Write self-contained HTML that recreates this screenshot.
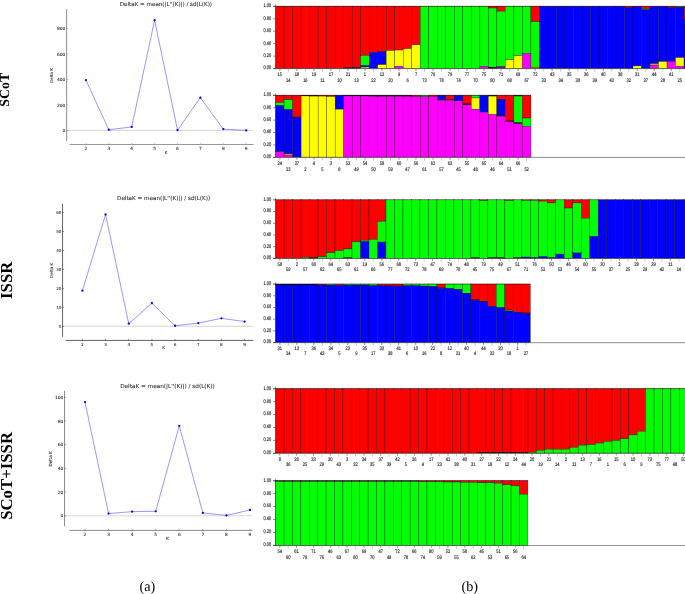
<!DOCTYPE html>
<html><head><meta charset="utf-8"><title>Figure</title>
<style>
html,body{margin:0;padding:0;background:#fff;}
body{width:685px;height:594px;overflow:hidden;}
svg{display:block;}
svg{font-family:"Liberation Sans",sans-serif;text-rendering:geometricPrecision;}
</style></head><body>
<svg width="685" height="594" viewBox="0 0 685 594">
<rect width="685" height="594" fill="#fff"/>
<g>
<g style="font-family:DejaVu Sans,Liberation Sans,sans-serif" stroke="#333" stroke-width="0.1">
<line x1="66.60" y1="130.40" x2="253.50" y2="130.40" stroke="#c4c4c4" stroke-width="0.7"/>
<line x1="66.60" y1="9.30" x2="66.60" y2="141.30" stroke="#999" stroke-width="1.1"/>
<line x1="69.50" y1="144.50" x2="253.50" y2="144.50" stroke="#999" stroke-width="1.1"/>
<line x1="66.60" y1="130.40" x2="68.20" y2="130.40" stroke="#999" stroke-width="0.6"/>
<text x="65.40" y="132.00" font-size="4.4" text-anchor="end" fill="#333">0</text>
<line x1="66.60" y1="104.90" x2="68.20" y2="104.90" stroke="#999" stroke-width="0.6"/>
<text x="65.40" y="106.50" font-size="4.4" text-anchor="end" fill="#333">200</text>
<line x1="66.60" y1="79.40" x2="68.20" y2="79.40" stroke="#999" stroke-width="0.6"/>
<text x="65.40" y="81.00" font-size="4.4" text-anchor="end" fill="#333">400</text>
<line x1="66.60" y1="53.90" x2="68.20" y2="53.90" stroke="#999" stroke-width="0.6"/>
<text x="65.40" y="55.50" font-size="4.4" text-anchor="end" fill="#333">600</text>
<line x1="66.60" y1="28.40" x2="68.20" y2="28.40" stroke="#999" stroke-width="0.6"/>
<text x="65.40" y="30.00" font-size="4.4" text-anchor="end" fill="#333">800</text>
<line x1="85.90" y1="144.50" x2="85.90" y2="142.90" stroke="#999" stroke-width="0.6"/>
<text x="85.90" y="149.70" font-size="4.4" text-anchor="middle" fill="#333">2</text>
<line x1="108.80" y1="144.50" x2="108.80" y2="142.90" stroke="#999" stroke-width="0.6"/>
<text x="108.80" y="149.70" font-size="4.4" text-anchor="middle" fill="#333">3</text>
<line x1="131.70" y1="144.50" x2="131.70" y2="142.90" stroke="#999" stroke-width="0.6"/>
<text x="131.70" y="149.70" font-size="4.4" text-anchor="middle" fill="#333">4</text>
<line x1="154.60" y1="144.50" x2="154.60" y2="142.90" stroke="#999" stroke-width="0.6"/>
<text x="154.60" y="149.70" font-size="4.4" text-anchor="middle" fill="#333">5</text>
<line x1="177.50" y1="144.50" x2="177.50" y2="142.90" stroke="#999" stroke-width="0.6"/>
<text x="177.50" y="149.70" font-size="4.4" text-anchor="middle" fill="#333">6</text>
<line x1="200.40" y1="144.50" x2="200.40" y2="142.90" stroke="#999" stroke-width="0.6"/>
<text x="200.40" y="149.70" font-size="4.4" text-anchor="middle" fill="#333">7</text>
<line x1="223.30" y1="144.50" x2="223.30" y2="142.90" stroke="#999" stroke-width="0.6"/>
<text x="223.30" y="149.70" font-size="4.4" text-anchor="middle" fill="#333">8</text>
<line x1="246.20" y1="144.50" x2="246.20" y2="142.90" stroke="#999" stroke-width="0.6"/>
<text x="246.20" y="149.70" font-size="4.4" text-anchor="middle" fill="#333">9</text>
<polyline fill="none" stroke="#3333ff" stroke-width="0.5" points="85.90,80.04 108.80,129.76 131.70,126.96 154.60,20.24 177.50,130.15 200.40,97.63 223.30,129.12 246.20,130.40"/>
<circle cx="85.90" cy="80.04" r="1.15" fill="#0000ff" stroke="none"/>
<circle cx="108.80" cy="129.76" r="1.15" fill="#0000ff" stroke="none"/>
<circle cx="131.70" cy="126.96" r="1.15" fill="#0000ff" stroke="none"/>
<circle cx="154.60" cy="20.24" r="1.15" fill="#0000ff" stroke="none"/>
<circle cx="177.50" cy="130.15" r="1.15" fill="#0000ff" stroke="none"/>
<circle cx="200.40" cy="97.63" r="1.15" fill="#0000ff" stroke="none"/>
<circle cx="223.30" cy="129.12" r="1.15" fill="#0000ff" stroke="none"/>
<circle cx="246.20" cy="130.40" r="1.15" fill="#0000ff" stroke="none"/>
<text x="165.90" y="6.10" font-size="5.58" text-anchor="middle" textLength="92.2" lengthAdjust="spacingAndGlyphs" fill="#333">DeltaK = mean(|L''(K)|) / sd(L(K))</text>
<text transform="translate(52.80,75.40) rotate(-90)" font-size="4.05" text-anchor="middle" fill="#333">Delta K</text>
<text x="166.05" y="153.70" font-size="4.05" text-anchor="middle" fill="#333">K</text>
</g>
<g style="font-family:DejaVu Sans,Liberation Sans,sans-serif" stroke="#333" stroke-width="0.1">
<line x1="62.55" y1="326.30" x2="253.50" y2="326.30" stroke="#c4c4c4" stroke-width="0.7"/>
<line x1="62.55" y1="203.60" x2="62.55" y2="336.90" stroke="#444" stroke-width="0.85"/>
<line x1="65.70" y1="340.40" x2="253.50" y2="340.40" stroke="#444" stroke-width="0.85"/>
<line x1="62.55" y1="326.30" x2="64.15" y2="326.30" stroke="#444" stroke-width="0.6"/>
<text x="61.35" y="327.90" font-size="4.1" text-anchor="end" fill="#333">0</text>
<line x1="62.55" y1="307.35" x2="64.15" y2="307.35" stroke="#444" stroke-width="0.6"/>
<text x="61.35" y="308.95" font-size="4.1" text-anchor="end" fill="#333">10</text>
<line x1="62.55" y1="288.40" x2="64.15" y2="288.40" stroke="#444" stroke-width="0.6"/>
<text x="61.35" y="290.00" font-size="4.1" text-anchor="end" fill="#333">20</text>
<line x1="62.55" y1="269.45" x2="64.15" y2="269.45" stroke="#444" stroke-width="0.6"/>
<text x="61.35" y="271.05" font-size="4.1" text-anchor="end" fill="#333">30</text>
<line x1="62.55" y1="250.50" x2="64.15" y2="250.50" stroke="#444" stroke-width="0.6"/>
<text x="61.35" y="252.10" font-size="4.1" text-anchor="end" fill="#333">40</text>
<line x1="62.55" y1="231.55" x2="64.15" y2="231.55" stroke="#444" stroke-width="0.6"/>
<text x="61.35" y="233.15" font-size="4.1" text-anchor="end" fill="#333">50</text>
<line x1="62.55" y1="212.60" x2="64.15" y2="212.60" stroke="#444" stroke-width="0.6"/>
<text x="61.35" y="214.20" font-size="4.1" text-anchor="end" fill="#333">60</text>
<line x1="82.40" y1="340.40" x2="82.40" y2="338.80" stroke="#444" stroke-width="0.6"/>
<text x="82.40" y="345.60" font-size="4.1" text-anchor="middle" fill="#333">2</text>
<line x1="105.57" y1="340.40" x2="105.57" y2="338.80" stroke="#444" stroke-width="0.6"/>
<text x="105.57" y="345.60" font-size="4.1" text-anchor="middle" fill="#333">3</text>
<line x1="128.74" y1="340.40" x2="128.74" y2="338.80" stroke="#444" stroke-width="0.6"/>
<text x="128.74" y="345.60" font-size="4.1" text-anchor="middle" fill="#333">4</text>
<line x1="151.91" y1="340.40" x2="151.91" y2="338.80" stroke="#444" stroke-width="0.6"/>
<text x="151.91" y="345.60" font-size="4.1" text-anchor="middle" fill="#333">5</text>
<line x1="175.08" y1="340.40" x2="175.08" y2="338.80" stroke="#444" stroke-width="0.6"/>
<text x="175.08" y="345.60" font-size="4.1" text-anchor="middle" fill="#333">6</text>
<line x1="198.25" y1="340.40" x2="198.25" y2="338.80" stroke="#444" stroke-width="0.6"/>
<text x="198.25" y="345.60" font-size="4.1" text-anchor="middle" fill="#333">7</text>
<line x1="221.42" y1="340.40" x2="221.42" y2="338.80" stroke="#444" stroke-width="0.6"/>
<text x="221.42" y="345.60" font-size="4.1" text-anchor="middle" fill="#333">8</text>
<line x1="244.59" y1="340.40" x2="244.59" y2="338.80" stroke="#444" stroke-width="0.6"/>
<text x="244.59" y="345.60" font-size="4.1" text-anchor="middle" fill="#333">9</text>
<polyline fill="none" stroke="#3333ff" stroke-width="0.5" points="82.40,290.67 105.57,214.50 128.74,323.65 151.91,303.18 175.08,325.73 198.25,323.08 221.42,318.34 244.59,321.56"/>
<circle cx="82.40" cy="290.67" r="1.15" fill="#0000ff" stroke="none"/>
<circle cx="105.57" cy="214.50" r="1.15" fill="#0000ff" stroke="none"/>
<circle cx="128.74" cy="323.65" r="1.15" fill="#0000ff" stroke="none"/>
<circle cx="151.91" cy="303.18" r="1.15" fill="#0000ff" stroke="none"/>
<circle cx="175.08" cy="325.73" r="1.15" fill="#0000ff" stroke="none"/>
<circle cx="198.25" cy="323.08" r="1.15" fill="#0000ff" stroke="none"/>
<circle cx="221.42" cy="318.34" r="1.15" fill="#0000ff" stroke="none"/>
<circle cx="244.59" cy="321.56" r="1.15" fill="#0000ff" stroke="none"/>
<text x="163.60" y="200.40" font-size="5.58" text-anchor="middle" textLength="93.1" lengthAdjust="spacingAndGlyphs" fill="#333">DeltaK = mean(|L''(K)|) / sd(L(K))</text>
<text transform="translate(53.10,270.35) rotate(-90)" font-size="4.15" text-anchor="middle" fill="#333">Delta K</text>
<text x="163.50" y="349.30" font-size="4.15" text-anchor="middle" fill="#333">K</text>
</g>
<g style="font-family:DejaVu Sans,Liberation Sans,sans-serif" stroke="#333" stroke-width="0.1">
<line x1="64.55" y1="515.80" x2="252.30" y2="515.80" stroke="#c4c4c4" stroke-width="0.7"/>
<line x1="64.55" y1="390.90" x2="64.55" y2="526.40" stroke="#6a6a6a" stroke-width="0.8"/>
<line x1="69.40" y1="530.40" x2="252.30" y2="530.40" stroke="#6a6a6a" stroke-width="0.8"/>
<line x1="64.55" y1="515.80" x2="66.15" y2="515.80" stroke="#6a6a6a" stroke-width="0.6"/>
<text x="63.35" y="517.40" font-size="4.4" text-anchor="end" fill="#333">0</text>
<line x1="64.55" y1="492.10" x2="66.15" y2="492.10" stroke="#6a6a6a" stroke-width="0.6"/>
<text x="63.35" y="493.70" font-size="4.4" text-anchor="end" fill="#333">20</text>
<line x1="64.55" y1="468.40" x2="66.15" y2="468.40" stroke="#6a6a6a" stroke-width="0.6"/>
<text x="63.35" y="470.00" font-size="4.4" text-anchor="end" fill="#333">40</text>
<line x1="64.55" y1="444.70" x2="66.15" y2="444.70" stroke="#6a6a6a" stroke-width="0.6"/>
<text x="63.35" y="446.30" font-size="4.4" text-anchor="end" fill="#333">60</text>
<line x1="64.55" y1="421.00" x2="66.15" y2="421.00" stroke="#6a6a6a" stroke-width="0.6"/>
<text x="63.35" y="422.60" font-size="4.4" text-anchor="end" fill="#333">80</text>
<line x1="64.55" y1="397.30" x2="66.15" y2="397.30" stroke="#6a6a6a" stroke-width="0.6"/>
<text x="63.35" y="398.90" font-size="4.4" text-anchor="end" fill="#333">100</text>
<line x1="85.00" y1="530.40" x2="85.00" y2="528.80" stroke="#6a6a6a" stroke-width="0.6"/>
<text x="85.00" y="535.60" font-size="4.4" text-anchor="middle" fill="#333">2</text>
<line x1="108.57" y1="530.40" x2="108.57" y2="528.80" stroke="#6a6a6a" stroke-width="0.6"/>
<text x="108.57" y="535.60" font-size="4.4" text-anchor="middle" fill="#333">3</text>
<line x1="132.14" y1="530.40" x2="132.14" y2="528.80" stroke="#6a6a6a" stroke-width="0.6"/>
<text x="132.14" y="535.60" font-size="4.4" text-anchor="middle" fill="#333">4</text>
<line x1="155.71" y1="530.40" x2="155.71" y2="528.80" stroke="#6a6a6a" stroke-width="0.6"/>
<text x="155.71" y="535.60" font-size="4.4" text-anchor="middle" fill="#333">5</text>
<line x1="179.28" y1="530.40" x2="179.28" y2="528.80" stroke="#6a6a6a" stroke-width="0.6"/>
<text x="179.28" y="535.60" font-size="4.4" text-anchor="middle" fill="#333">6</text>
<line x1="202.85" y1="530.40" x2="202.85" y2="528.80" stroke="#6a6a6a" stroke-width="0.6"/>
<text x="202.85" y="535.60" font-size="4.4" text-anchor="middle" fill="#333">7</text>
<line x1="226.42" y1="530.40" x2="226.42" y2="528.80" stroke="#6a6a6a" stroke-width="0.6"/>
<text x="226.42" y="535.60" font-size="4.4" text-anchor="middle" fill="#333">8</text>
<line x1="249.99" y1="530.40" x2="249.99" y2="528.80" stroke="#6a6a6a" stroke-width="0.6"/>
<text x="249.99" y="535.60" font-size="4.4" text-anchor="middle" fill="#333">9</text>
<polyline fill="none" stroke="#3333ff" stroke-width="0.5" points="85.00,402.04 108.57,513.55 132.14,511.65 155.71,511.30 179.28,425.86 202.85,512.96 226.42,515.44 249.99,509.99"/>
<circle cx="85.00" cy="402.04" r="1.15" fill="#0000ff" stroke="none"/>
<circle cx="108.57" cy="513.55" r="1.15" fill="#0000ff" stroke="none"/>
<circle cx="132.14" cy="511.65" r="1.15" fill="#0000ff" stroke="none"/>
<circle cx="155.71" cy="511.30" r="1.15" fill="#0000ff" stroke="none"/>
<circle cx="179.28" cy="425.86" r="1.15" fill="#0000ff" stroke="none"/>
<circle cx="202.85" cy="512.96" r="1.15" fill="#0000ff" stroke="none"/>
<circle cx="226.42" cy="515.44" r="1.15" fill="#0000ff" stroke="none"/>
<circle cx="249.99" cy="509.99" r="1.15" fill="#0000ff" stroke="none"/>
<text x="167.50" y="387.70" font-size="5.58" text-anchor="middle" textLength="94.7" lengthAdjust="spacingAndGlyphs" fill="#333">DeltaK = mean(|L''(K)|) / sd(L(K))</text>
<text transform="translate(51.70,458.85) rotate(-90)" font-size="4.25" text-anchor="middle" fill="#333">Delta K</text>
<text x="167.50" y="539.80" font-size="4.25" text-anchor="middle" fill="#333">K</text>
</g>
<g stroke-opacity="0.72">
<rect x="275.60" y="6.20" width="8.51" height="62.20" fill="#ff0000" stroke="#000" stroke-width="0.42"/>
<rect x="284.11" y="6.20" width="8.51" height="62.20" fill="#ff0000" stroke="#000" stroke-width="0.42"/>
<rect x="292.62" y="6.20" width="8.51" height="62.20" fill="#ff0000" stroke="#000" stroke-width="0.42"/>
<rect x="301.13" y="6.20" width="8.51" height="62.20" fill="#ff0000" stroke="#000" stroke-width="0.42"/>
<rect x="309.64" y="6.20" width="8.51" height="62.20" fill="#ff0000" stroke="#000" stroke-width="0.42"/>
<rect x="318.15" y="6.20" width="8.51" height="62.20" fill="#ff0000" stroke="#000" stroke-width="0.42"/>
<rect x="326.66" y="6.20" width="8.51" height="62.20" fill="#ff0000" stroke="#000" stroke-width="0.42"/>
<rect x="335.17" y="6.20" width="8.51" height="62.20" fill="#ff0000" stroke="#000" stroke-width="0.42"/>
<rect x="343.68" y="6.20" width="8.51" height="61.45" fill="#ff0000" stroke="#000" stroke-width="0.42"/>
<rect x="343.68" y="67.65" width="8.51" height="0.75" fill="#000000" stroke="#000" stroke-width="0.42"/>
<rect x="352.19" y="6.20" width="8.51" height="61.27" fill="#ff0000" stroke="#000" stroke-width="0.42"/>
<rect x="352.19" y="67.47" width="8.51" height="0.93" fill="#000000" stroke="#000" stroke-width="0.42"/>
<rect x="360.70" y="6.20" width="8.51" height="49.32" fill="#ff0000" stroke="#000" stroke-width="0.42"/>
<rect x="360.70" y="55.52" width="8.51" height="10.08" fill="#00ff00" stroke="#000" stroke-width="0.42"/>
<rect x="360.70" y="65.60" width="8.51" height="1.55" fill="#0000ff" stroke="#000" stroke-width="0.42"/>
<rect x="360.70" y="67.16" width="8.51" height="1.24" fill="#ffff00" stroke="#000" stroke-width="0.42"/>
<rect x="369.21" y="6.20" width="8.51" height="46.34" fill="#ff0000" stroke="#000" stroke-width="0.42"/>
<rect x="369.21" y="52.54" width="8.51" height="15.86" fill="#0000ff" stroke="#000" stroke-width="0.42"/>
<rect x="377.72" y="6.20" width="8.51" height="45.59" fill="#ff0000" stroke="#000" stroke-width="0.42"/>
<rect x="377.72" y="51.79" width="8.51" height="12.88" fill="#0000ff" stroke="#000" stroke-width="0.42"/>
<rect x="377.72" y="64.67" width="8.51" height="3.73" fill="#ffff00" stroke="#000" stroke-width="0.42"/>
<rect x="386.23" y="6.20" width="8.51" height="44.35" fill="#ff0000" stroke="#000" stroke-width="0.42"/>
<rect x="386.23" y="50.55" width="8.51" height="17.85" fill="#ffff00" stroke="#000" stroke-width="0.42"/>
<rect x="394.74" y="6.20" width="8.51" height="43.91" fill="#ff0000" stroke="#000" stroke-width="0.42"/>
<rect x="394.74" y="50.11" width="8.51" height="16.30" fill="#ffff00" stroke="#000" stroke-width="0.42"/>
<rect x="394.74" y="66.41" width="8.51" height="1.99" fill="#ff00ff" stroke="#000" stroke-width="0.42"/>
<rect x="403.25" y="6.20" width="8.51" height="42.48" fill="#ff0000" stroke="#000" stroke-width="0.42"/>
<rect x="403.25" y="48.68" width="8.51" height="19.72" fill="#ffff00" stroke="#000" stroke-width="0.42"/>
<rect x="411.76" y="6.20" width="8.51" height="38.63" fill="#ff0000" stroke="#000" stroke-width="0.42"/>
<rect x="411.76" y="44.83" width="8.51" height="23.57" fill="#ffff00" stroke="#000" stroke-width="0.42"/>
<rect x="420.27" y="6.20" width="8.51" height="62.20" fill="#00ff00" stroke="#000" stroke-width="0.42"/>
<rect x="428.78" y="6.20" width="8.51" height="62.20" fill="#00ff00" stroke="#000" stroke-width="0.42"/>
<rect x="437.29" y="6.20" width="8.51" height="62.20" fill="#00ff00" stroke="#000" stroke-width="0.42"/>
<rect x="445.80" y="6.20" width="8.51" height="62.20" fill="#00ff00" stroke="#000" stroke-width="0.42"/>
<rect x="454.31" y="6.20" width="8.51" height="62.20" fill="#00ff00" stroke="#000" stroke-width="0.42"/>
<rect x="462.82" y="6.20" width="8.51" height="62.20" fill="#00ff00" stroke="#000" stroke-width="0.42"/>
<rect x="471.33" y="6.20" width="8.51" height="62.20" fill="#00ff00" stroke="#000" stroke-width="0.42"/>
<rect x="479.84" y="6.20" width="8.51" height="60.33" fill="#00ff00" stroke="#000" stroke-width="0.42"/>
<rect x="479.84" y="66.53" width="8.51" height="1.87" fill="#ff00ff" stroke="#000" stroke-width="0.42"/>
<rect x="488.35" y="6.20" width="8.51" height="1.87" fill="#ff0000" stroke="#000" stroke-width="0.42"/>
<rect x="488.35" y="8.07" width="8.51" height="59.09" fill="#00ff00" stroke="#000" stroke-width="0.42"/>
<rect x="488.35" y="67.16" width="8.51" height="1.24" fill="#000000" stroke="#000" stroke-width="0.42"/>
<rect x="496.86" y="6.20" width="8.51" height="4.98" fill="#ff0000" stroke="#000" stroke-width="0.42"/>
<rect x="496.86" y="11.18" width="8.51" height="55.36" fill="#00ff00" stroke="#000" stroke-width="0.42"/>
<rect x="496.86" y="66.53" width="8.51" height="1.87" fill="#8000a0" stroke="#000" stroke-width="0.42"/>
<rect x="505.37" y="6.20" width="8.51" height="53.49" fill="#00ff00" stroke="#000" stroke-width="0.42"/>
<rect x="505.37" y="59.69" width="8.51" height="8.71" fill="#ffff00" stroke="#000" stroke-width="0.42"/>
<rect x="513.88" y="6.20" width="8.51" height="49.45" fill="#00ff00" stroke="#000" stroke-width="0.42"/>
<rect x="513.88" y="55.65" width="8.51" height="12.75" fill="#ffff00" stroke="#000" stroke-width="0.42"/>
<rect x="522.39" y="6.20" width="8.51" height="47.27" fill="#00ff00" stroke="#000" stroke-width="0.42"/>
<rect x="522.39" y="53.47" width="8.51" height="14.93" fill="#ff00ff" stroke="#000" stroke-width="0.42"/>
<rect x="530.90" y="6.20" width="8.51" height="15.55" fill="#ff0000" stroke="#000" stroke-width="0.42"/>
<rect x="530.90" y="21.75" width="8.51" height="45.41" fill="#00ff00" stroke="#000" stroke-width="0.42"/>
<rect x="530.90" y="67.16" width="8.51" height="1.24" fill="#c09000" stroke="#000" stroke-width="0.42"/>
<rect x="539.41" y="6.20" width="8.51" height="62.20" fill="#0000ff" stroke="#000" stroke-width="0.42"/>
<rect x="547.92" y="6.20" width="8.51" height="62.20" fill="#0000ff" stroke="#000" stroke-width="0.42"/>
<rect x="556.43" y="6.20" width="8.51" height="62.20" fill="#0000ff" stroke="#000" stroke-width="0.42"/>
<rect x="564.94" y="6.20" width="8.51" height="62.20" fill="#0000ff" stroke="#000" stroke-width="0.42"/>
<rect x="573.45" y="6.20" width="8.51" height="62.20" fill="#0000ff" stroke="#000" stroke-width="0.42"/>
<rect x="581.96" y="6.20" width="8.51" height="62.20" fill="#0000ff" stroke="#000" stroke-width="0.42"/>
<rect x="590.47" y="6.20" width="8.51" height="62.20" fill="#0000ff" stroke="#000" stroke-width="0.42"/>
<rect x="598.98" y="6.20" width="8.51" height="62.20" fill="#0000ff" stroke="#000" stroke-width="0.42"/>
<rect x="607.49" y="6.20" width="8.51" height="62.20" fill="#0000ff" stroke="#000" stroke-width="0.42"/>
<rect x="616.00" y="6.20" width="8.51" height="62.20" fill="#0000ff" stroke="#000" stroke-width="0.42"/>
<rect x="624.51" y="6.20" width="8.51" height="1.56" fill="#ff0000" stroke="#000" stroke-width="0.42"/>
<rect x="624.51" y="7.76" width="8.51" height="60.65" fill="#0000ff" stroke="#000" stroke-width="0.42"/>
<rect x="633.02" y="6.20" width="8.51" height="59.71" fill="#0000ff" stroke="#000" stroke-width="0.42"/>
<rect x="633.02" y="65.91" width="8.51" height="2.49" fill="#ffff00" stroke="#000" stroke-width="0.42"/>
<rect x="641.53" y="6.20" width="8.51" height="2.49" fill="#ff0000" stroke="#000" stroke-width="0.42"/>
<rect x="641.53" y="8.69" width="8.51" height="0.93" fill="#00ff00" stroke="#000" stroke-width="0.42"/>
<rect x="641.53" y="9.62" width="8.51" height="58.78" fill="#0000ff" stroke="#000" stroke-width="0.42"/>
<rect x="650.04" y="6.20" width="8.51" height="57.54" fill="#0000ff" stroke="#000" stroke-width="0.42"/>
<rect x="650.04" y="63.74" width="8.51" height="1.24" fill="#ffff00" stroke="#000" stroke-width="0.42"/>
<rect x="650.04" y="64.98" width="8.51" height="3.42" fill="#ff00ff" stroke="#000" stroke-width="0.42"/>
<rect x="658.55" y="6.20" width="8.51" height="55.36" fill="#0000ff" stroke="#000" stroke-width="0.42"/>
<rect x="658.55" y="61.56" width="8.51" height="6.84" fill="#ffff00" stroke="#000" stroke-width="0.42"/>
<rect x="667.06" y="6.20" width="8.51" height="1.56" fill="#ff0000" stroke="#000" stroke-width="0.42"/>
<rect x="667.06" y="7.76" width="8.51" height="53.80" fill="#0000ff" stroke="#000" stroke-width="0.42"/>
<rect x="667.06" y="61.56" width="8.51" height="6.84" fill="#ff00ff" stroke="#000" stroke-width="0.42"/>
<rect x="675.57" y="6.20" width="8.51" height="0.93" fill="#00ff00" stroke="#000" stroke-width="0.42"/>
<rect x="675.57" y="7.13" width="8.51" height="50.44" fill="#0000ff" stroke="#000" stroke-width="0.42"/>
<rect x="675.57" y="57.58" width="8.51" height="8.96" fill="#ffff00" stroke="#000" stroke-width="0.42"/>
<rect x="675.57" y="66.53" width="8.51" height="1.87" fill="#ff00ff" stroke="#000" stroke-width="0.42"/>
<rect x="684.08" y="6.20" width="8.51" height="13.68" fill="#ff0000" stroke="#000" stroke-width="0.42"/>
<rect x="684.08" y="19.88" width="8.51" height="48.52" fill="#0000ff" stroke="#000" stroke-width="0.42"/>
<line x1="273.00" y1="6.30" x2="685.00" y2="6.30" stroke="#200" stroke-width="0.6"/>
<line x1="273.00" y1="68.65" x2="685.00" y2="68.65" stroke="#222" stroke-width="0.7"/>
<line x1="275.60" y1="4.20" x2="275.60" y2="68.40" stroke="#000" stroke-width="0.5"/>
<line x1="273.00" y1="6.35" x2="275.60" y2="6.35" stroke="#000" stroke-width="0.6"/>
<text x="271.10" y="7.21" font-size="5.2" text-anchor="end" textLength="7.7" lengthAdjust="spacingAndGlyphs" fill="#222" stroke="#222" stroke-width="0.18">1.00</text>
<line x1="273.00" y1="18.79" x2="275.60" y2="18.79" stroke="#000" stroke-width="0.6"/>
<text x="271.10" y="19.65" font-size="5.2" text-anchor="end" textLength="7.7" lengthAdjust="spacingAndGlyphs" fill="#222" stroke="#222" stroke-width="0.18">0.80</text>
<line x1="273.00" y1="31.23" x2="275.60" y2="31.23" stroke="#000" stroke-width="0.6"/>
<text x="271.10" y="32.09" font-size="5.2" text-anchor="end" textLength="7.7" lengthAdjust="spacingAndGlyphs" fill="#222" stroke="#222" stroke-width="0.18">0.60</text>
<line x1="273.00" y1="43.67" x2="275.60" y2="43.67" stroke="#000" stroke-width="0.6"/>
<text x="271.10" y="44.53" font-size="5.2" text-anchor="end" textLength="7.7" lengthAdjust="spacingAndGlyphs" fill="#222" stroke="#222" stroke-width="0.18">0.40</text>
<line x1="273.00" y1="56.11" x2="275.60" y2="56.11" stroke="#000" stroke-width="0.6"/>
<text x="271.10" y="56.97" font-size="5.2" text-anchor="end" textLength="7.7" lengthAdjust="spacingAndGlyphs" fill="#222" stroke="#222" stroke-width="0.18">0.20</text>
<line x1="273.00" y1="68.55" x2="275.60" y2="68.55" stroke="#000" stroke-width="0.6"/>
<text x="271.10" y="69.41" font-size="5.2" text-anchor="end" textLength="7.7" lengthAdjust="spacingAndGlyphs" fill="#222" stroke="#222" stroke-width="0.18">0.00</text>
<line x1="279.86" y1="68.90" x2="279.86" y2="71.00" stroke="#111" stroke-width="0.6"/>
<text x="279.86" y="76.16" font-size="5.2" text-anchor="middle" textLength="4.50" lengthAdjust="spacingAndGlyphs" fill="#222" stroke="#222" stroke-width="0.18">15</text>
<line x1="288.37" y1="68.90" x2="288.37" y2="71.80" stroke="#888" stroke-width="0.6"/>
<text x="288.37" y="81.66" font-size="5.2" text-anchor="middle" textLength="4.50" lengthAdjust="spacingAndGlyphs" fill="#222" stroke="#222" stroke-width="0.18">14</text>
<line x1="296.88" y1="68.90" x2="296.88" y2="71.00" stroke="#111" stroke-width="0.6"/>
<text x="296.88" y="76.16" font-size="5.2" text-anchor="middle" textLength="4.50" lengthAdjust="spacingAndGlyphs" fill="#222" stroke="#222" stroke-width="0.18">18</text>
<line x1="305.39" y1="68.90" x2="305.39" y2="71.80" stroke="#888" stroke-width="0.6"/>
<text x="305.39" y="81.66" font-size="5.2" text-anchor="middle" textLength="4.50" lengthAdjust="spacingAndGlyphs" fill="#222" stroke="#222" stroke-width="0.18">16</text>
<line x1="313.90" y1="68.90" x2="313.90" y2="71.00" stroke="#111" stroke-width="0.6"/>
<text x="313.90" y="76.16" font-size="5.2" text-anchor="middle" textLength="4.50" lengthAdjust="spacingAndGlyphs" fill="#222" stroke="#222" stroke-width="0.18">19</text>
<line x1="322.41" y1="68.90" x2="322.41" y2="71.80" stroke="#888" stroke-width="0.6"/>
<text x="322.41" y="81.66" font-size="5.2" text-anchor="middle" textLength="4.50" lengthAdjust="spacingAndGlyphs" fill="#222" stroke="#222" stroke-width="0.18">11</text>
<line x1="330.92" y1="68.90" x2="330.92" y2="71.00" stroke="#111" stroke-width="0.6"/>
<text x="330.92" y="76.16" font-size="5.2" text-anchor="middle" textLength="4.50" lengthAdjust="spacingAndGlyphs" fill="#222" stroke="#222" stroke-width="0.18">17</text>
<line x1="339.43" y1="68.90" x2="339.43" y2="71.80" stroke="#888" stroke-width="0.6"/>
<text x="339.43" y="81.66" font-size="5.2" text-anchor="middle" textLength="4.50" lengthAdjust="spacingAndGlyphs" fill="#222" stroke="#222" stroke-width="0.18">10</text>
<line x1="347.94" y1="68.90" x2="347.94" y2="71.00" stroke="#111" stroke-width="0.6"/>
<text x="347.94" y="76.16" font-size="5.2" text-anchor="middle" textLength="4.50" lengthAdjust="spacingAndGlyphs" fill="#222" stroke="#222" stroke-width="0.18">21</text>
<line x1="356.45" y1="68.90" x2="356.45" y2="71.80" stroke="#888" stroke-width="0.6"/>
<text x="356.45" y="81.66" font-size="5.2" text-anchor="middle" textLength="4.50" lengthAdjust="spacingAndGlyphs" fill="#222" stroke="#222" stroke-width="0.18">13</text>
<line x1="364.96" y1="68.90" x2="364.96" y2="71.00" stroke="#111" stroke-width="0.6"/>
<text x="364.96" y="76.16" font-size="5.2" text-anchor="middle" textLength="2.25" lengthAdjust="spacingAndGlyphs" fill="#222" stroke="#222" stroke-width="0.18">1</text>
<line x1="373.47" y1="68.90" x2="373.47" y2="71.80" stroke="#888" stroke-width="0.6"/>
<text x="373.47" y="81.66" font-size="5.2" text-anchor="middle" textLength="4.50" lengthAdjust="spacingAndGlyphs" fill="#222" stroke="#222" stroke-width="0.18">22</text>
<line x1="381.98" y1="68.90" x2="381.98" y2="71.00" stroke="#111" stroke-width="0.6"/>
<text x="381.98" y="76.16" font-size="5.2" text-anchor="middle" textLength="4.50" lengthAdjust="spacingAndGlyphs" fill="#222" stroke="#222" stroke-width="0.18">12</text>
<line x1="390.49" y1="68.90" x2="390.49" y2="71.80" stroke="#888" stroke-width="0.6"/>
<text x="390.49" y="81.66" font-size="5.2" text-anchor="middle" textLength="4.50" lengthAdjust="spacingAndGlyphs" fill="#222" stroke="#222" stroke-width="0.18">20</text>
<line x1="399.00" y1="68.90" x2="399.00" y2="71.00" stroke="#111" stroke-width="0.6"/>
<text x="399.00" y="76.16" font-size="5.2" text-anchor="middle" textLength="2.25" lengthAdjust="spacingAndGlyphs" fill="#222" stroke="#222" stroke-width="0.18">9</text>
<line x1="407.50" y1="68.90" x2="407.50" y2="71.80" stroke="#888" stroke-width="0.6"/>
<text x="407.50" y="81.66" font-size="5.2" text-anchor="middle" textLength="2.25" lengthAdjust="spacingAndGlyphs" fill="#222" stroke="#222" stroke-width="0.18">6</text>
<line x1="416.01" y1="68.90" x2="416.01" y2="71.00" stroke="#111" stroke-width="0.6"/>
<text x="416.01" y="76.16" font-size="5.2" text-anchor="middle" textLength="2.25" lengthAdjust="spacingAndGlyphs" fill="#222" stroke="#222" stroke-width="0.18">7</text>
<line x1="424.52" y1="68.90" x2="424.52" y2="71.80" stroke="#888" stroke-width="0.6"/>
<text x="424.52" y="81.66" font-size="5.2" text-anchor="middle" textLength="4.50" lengthAdjust="spacingAndGlyphs" fill="#222" stroke="#222" stroke-width="0.18">73</text>
<line x1="433.04" y1="68.90" x2="433.04" y2="71.00" stroke="#111" stroke-width="0.6"/>
<text x="433.04" y="76.16" font-size="5.2" text-anchor="middle" textLength="4.50" lengthAdjust="spacingAndGlyphs" fill="#222" stroke="#222" stroke-width="0.18">76</text>
<line x1="441.55" y1="68.90" x2="441.55" y2="71.80" stroke="#888" stroke-width="0.6"/>
<text x="441.55" y="81.66" font-size="5.2" text-anchor="middle" textLength="4.50" lengthAdjust="spacingAndGlyphs" fill="#222" stroke="#222" stroke-width="0.18">78</text>
<line x1="450.06" y1="68.90" x2="450.06" y2="71.00" stroke="#111" stroke-width="0.6"/>
<text x="450.06" y="76.16" font-size="5.2" text-anchor="middle" textLength="4.50" lengthAdjust="spacingAndGlyphs" fill="#222" stroke="#222" stroke-width="0.18">79</text>
<line x1="458.57" y1="68.90" x2="458.57" y2="71.80" stroke="#888" stroke-width="0.6"/>
<text x="458.57" y="81.66" font-size="5.2" text-anchor="middle" textLength="4.50" lengthAdjust="spacingAndGlyphs" fill="#222" stroke="#222" stroke-width="0.18">74</text>
<line x1="467.08" y1="68.90" x2="467.08" y2="71.00" stroke="#111" stroke-width="0.6"/>
<text x="467.08" y="76.16" font-size="5.2" text-anchor="middle" textLength="4.50" lengthAdjust="spacingAndGlyphs" fill="#222" stroke="#222" stroke-width="0.18">77</text>
<line x1="475.59" y1="68.90" x2="475.59" y2="71.80" stroke="#888" stroke-width="0.6"/>
<text x="475.59" y="81.66" font-size="5.2" text-anchor="middle" textLength="4.50" lengthAdjust="spacingAndGlyphs" fill="#222" stroke="#222" stroke-width="0.18">70</text>
<line x1="484.10" y1="68.90" x2="484.10" y2="71.00" stroke="#111" stroke-width="0.6"/>
<text x="484.10" y="76.16" font-size="5.2" text-anchor="middle" textLength="4.50" lengthAdjust="spacingAndGlyphs" fill="#222" stroke="#222" stroke-width="0.18">75</text>
<line x1="492.61" y1="68.90" x2="492.61" y2="71.80" stroke="#888" stroke-width="0.6"/>
<text x="492.61" y="81.66" font-size="5.2" text-anchor="middle" textLength="4.50" lengthAdjust="spacingAndGlyphs" fill="#222" stroke="#222" stroke-width="0.18">80</text>
<line x1="501.12" y1="68.90" x2="501.12" y2="71.00" stroke="#111" stroke-width="0.6"/>
<text x="501.12" y="76.16" font-size="5.2" text-anchor="middle" textLength="4.50" lengthAdjust="spacingAndGlyphs" fill="#222" stroke="#222" stroke-width="0.18">71</text>
<line x1="509.62" y1="68.90" x2="509.62" y2="71.80" stroke="#888" stroke-width="0.6"/>
<text x="509.62" y="81.66" font-size="5.2" text-anchor="middle" textLength="4.50" lengthAdjust="spacingAndGlyphs" fill="#222" stroke="#222" stroke-width="0.18">68</text>
<line x1="518.13" y1="68.90" x2="518.13" y2="71.00" stroke="#111" stroke-width="0.6"/>
<text x="518.13" y="76.16" font-size="5.2" text-anchor="middle" textLength="4.50" lengthAdjust="spacingAndGlyphs" fill="#222" stroke="#222" stroke-width="0.18">69</text>
<line x1="526.64" y1="68.90" x2="526.64" y2="71.80" stroke="#888" stroke-width="0.6"/>
<text x="526.64" y="81.66" font-size="5.2" text-anchor="middle" textLength="4.50" lengthAdjust="spacingAndGlyphs" fill="#222" stroke="#222" stroke-width="0.18">67</text>
<line x1="535.15" y1="68.90" x2="535.15" y2="71.00" stroke="#111" stroke-width="0.6"/>
<text x="535.15" y="76.16" font-size="5.2" text-anchor="middle" textLength="4.50" lengthAdjust="spacingAndGlyphs" fill="#222" stroke="#222" stroke-width="0.18">72</text>
<line x1="543.66" y1="68.90" x2="543.66" y2="71.80" stroke="#888" stroke-width="0.6"/>
<text x="543.66" y="81.66" font-size="5.2" text-anchor="middle" textLength="4.50" lengthAdjust="spacingAndGlyphs" fill="#222" stroke="#222" stroke-width="0.18">33</text>
<line x1="552.17" y1="68.90" x2="552.17" y2="71.00" stroke="#111" stroke-width="0.6"/>
<text x="552.17" y="76.16" font-size="5.2" text-anchor="middle" textLength="4.50" lengthAdjust="spacingAndGlyphs" fill="#222" stroke="#222" stroke-width="0.18">43</text>
<line x1="560.68" y1="68.90" x2="560.68" y2="71.80" stroke="#888" stroke-width="0.6"/>
<text x="560.68" y="81.66" font-size="5.2" text-anchor="middle" textLength="4.50" lengthAdjust="spacingAndGlyphs" fill="#222" stroke="#222" stroke-width="0.18">34</text>
<line x1="569.19" y1="68.90" x2="569.19" y2="71.00" stroke="#111" stroke-width="0.6"/>
<text x="569.19" y="76.16" font-size="5.2" text-anchor="middle" textLength="4.50" lengthAdjust="spacingAndGlyphs" fill="#222" stroke="#222" stroke-width="0.18">35</text>
<line x1="577.71" y1="68.90" x2="577.71" y2="71.80" stroke="#888" stroke-width="0.6"/>
<text x="577.71" y="81.66" font-size="5.2" text-anchor="middle" textLength="4.50" lengthAdjust="spacingAndGlyphs" fill="#222" stroke="#222" stroke-width="0.18">30</text>
<line x1="586.22" y1="68.90" x2="586.22" y2="71.00" stroke="#111" stroke-width="0.6"/>
<text x="586.22" y="76.16" font-size="5.2" text-anchor="middle" textLength="4.50" lengthAdjust="spacingAndGlyphs" fill="#222" stroke="#222" stroke-width="0.18">36</text>
<line x1="594.73" y1="68.90" x2="594.73" y2="71.80" stroke="#888" stroke-width="0.6"/>
<text x="594.73" y="81.66" font-size="5.2" text-anchor="middle" textLength="4.50" lengthAdjust="spacingAndGlyphs" fill="#222" stroke="#222" stroke-width="0.18">39</text>
<line x1="603.24" y1="68.90" x2="603.24" y2="71.00" stroke="#111" stroke-width="0.6"/>
<text x="603.24" y="76.16" font-size="5.2" text-anchor="middle" textLength="4.50" lengthAdjust="spacingAndGlyphs" fill="#222" stroke="#222" stroke-width="0.18">40</text>
<line x1="611.75" y1="68.90" x2="611.75" y2="71.80" stroke="#888" stroke-width="0.6"/>
<text x="611.75" y="81.66" font-size="5.2" text-anchor="middle" textLength="4.50" lengthAdjust="spacingAndGlyphs" fill="#222" stroke="#222" stroke-width="0.18">42</text>
<line x1="620.25" y1="68.90" x2="620.25" y2="71.00" stroke="#111" stroke-width="0.6"/>
<text x="620.25" y="76.16" font-size="5.2" text-anchor="middle" textLength="4.50" lengthAdjust="spacingAndGlyphs" fill="#222" stroke="#222" stroke-width="0.18">38</text>
<line x1="628.76" y1="68.90" x2="628.76" y2="71.80" stroke="#888" stroke-width="0.6"/>
<text x="628.76" y="81.66" font-size="5.2" text-anchor="middle" textLength="4.50" lengthAdjust="spacingAndGlyphs" fill="#222" stroke="#222" stroke-width="0.18">32</text>
<line x1="637.28" y1="68.90" x2="637.28" y2="71.00" stroke="#111" stroke-width="0.6"/>
<text x="637.28" y="76.16" font-size="5.2" text-anchor="middle" textLength="4.50" lengthAdjust="spacingAndGlyphs" fill="#222" stroke="#222" stroke-width="0.18">31</text>
<line x1="645.79" y1="68.90" x2="645.79" y2="71.80" stroke="#888" stroke-width="0.6"/>
<text x="645.79" y="81.66" font-size="5.2" text-anchor="middle" textLength="4.50" lengthAdjust="spacingAndGlyphs" fill="#222" stroke="#222" stroke-width="0.18">37</text>
<line x1="654.30" y1="68.90" x2="654.30" y2="71.00" stroke="#111" stroke-width="0.6"/>
<text x="654.30" y="76.16" font-size="5.2" text-anchor="middle" textLength="4.50" lengthAdjust="spacingAndGlyphs" fill="#222" stroke="#222" stroke-width="0.18">44</text>
<line x1="662.81" y1="68.90" x2="662.81" y2="71.80" stroke="#888" stroke-width="0.6"/>
<text x="662.81" y="81.66" font-size="5.2" text-anchor="middle" textLength="4.50" lengthAdjust="spacingAndGlyphs" fill="#222" stroke="#222" stroke-width="0.18">28</text>
<line x1="671.32" y1="68.90" x2="671.32" y2="71.00" stroke="#111" stroke-width="0.6"/>
<text x="671.32" y="76.16" font-size="5.2" text-anchor="middle" textLength="4.50" lengthAdjust="spacingAndGlyphs" fill="#222" stroke="#222" stroke-width="0.18">41</text>
<line x1="679.83" y1="68.90" x2="679.83" y2="71.80" stroke="#888" stroke-width="0.6"/>
<text x="679.83" y="81.66" font-size="5.2" text-anchor="middle" textLength="4.50" lengthAdjust="spacingAndGlyphs" fill="#222" stroke="#222" stroke-width="0.18">25</text>
</g>
<g stroke-opacity="0.72">
<rect x="275.60" y="95.20" width="8.51" height="7.43" fill="#ff0000" stroke="#000" stroke-width="0.42"/>
<rect x="275.60" y="102.63" width="8.51" height="2.85" fill="#00ff00" stroke="#000" stroke-width="0.42"/>
<rect x="275.60" y="105.48" width="8.51" height="46.21" fill="#0000ff" stroke="#000" stroke-width="0.42"/>
<rect x="275.60" y="151.70" width="8.51" height="5.45" fill="#ff00ff" stroke="#000" stroke-width="0.42"/>
<rect x="284.11" y="95.20" width="8.51" height="4.58" fill="#ff0000" stroke="#000" stroke-width="0.42"/>
<rect x="284.11" y="99.78" width="8.51" height="9.73" fill="#00ff00" stroke="#000" stroke-width="0.42"/>
<rect x="284.11" y="109.51" width="8.51" height="44.36" fill="#0000ff" stroke="#000" stroke-width="0.42"/>
<rect x="284.11" y="153.87" width="8.51" height="1.12" fill="#ffff00" stroke="#000" stroke-width="0.42"/>
<rect x="284.11" y="154.98" width="8.51" height="2.17" fill="#ff00ff" stroke="#000" stroke-width="0.42"/>
<rect x="292.62" y="95.20" width="8.51" height="21.87" fill="#ff0000" stroke="#000" stroke-width="0.42"/>
<rect x="292.62" y="117.07" width="8.51" height="40.08" fill="#0000ff" stroke="#000" stroke-width="0.42"/>
<rect x="301.13" y="95.20" width="8.51" height="0.74" fill="#000000" stroke="#000" stroke-width="0.42"/>
<rect x="301.13" y="95.94" width="8.51" height="61.21" fill="#ffff00" stroke="#000" stroke-width="0.42"/>
<rect x="309.64" y="95.20" width="8.51" height="0.93" fill="#000000" stroke="#000" stroke-width="0.42"/>
<rect x="309.64" y="96.13" width="8.51" height="61.02" fill="#ffff00" stroke="#000" stroke-width="0.42"/>
<rect x="318.15" y="95.20" width="8.51" height="0.93" fill="#ff0000" stroke="#000" stroke-width="0.42"/>
<rect x="318.15" y="96.13" width="8.51" height="61.02" fill="#ffff00" stroke="#000" stroke-width="0.42"/>
<rect x="326.66" y="95.20" width="8.51" height="1.36" fill="#ff0000" stroke="#000" stroke-width="0.42"/>
<rect x="326.66" y="96.56" width="8.51" height="60.59" fill="#ffff00" stroke="#000" stroke-width="0.42"/>
<rect x="335.17" y="95.20" width="8.51" height="14.00" fill="#0000ff" stroke="#000" stroke-width="0.42"/>
<rect x="335.17" y="109.20" width="8.51" height="47.95" fill="#ffff00" stroke="#000" stroke-width="0.42"/>
<rect x="343.68" y="95.20" width="8.51" height="0.74" fill="#000000" stroke="#000" stroke-width="0.42"/>
<rect x="343.68" y="95.94" width="8.51" height="61.21" fill="#ff00ff" stroke="#000" stroke-width="0.42"/>
<rect x="352.19" y="95.20" width="8.51" height="0.74" fill="#000000" stroke="#000" stroke-width="0.42"/>
<rect x="352.19" y="95.94" width="8.51" height="61.21" fill="#ff00ff" stroke="#000" stroke-width="0.42"/>
<rect x="360.70" y="95.20" width="8.51" height="0.74" fill="#000000" stroke="#000" stroke-width="0.42"/>
<rect x="360.70" y="95.94" width="8.51" height="61.21" fill="#ff00ff" stroke="#000" stroke-width="0.42"/>
<rect x="369.21" y="95.20" width="8.51" height="1.12" fill="#000000" stroke="#000" stroke-width="0.42"/>
<rect x="369.21" y="96.32" width="8.51" height="60.83" fill="#ff00ff" stroke="#000" stroke-width="0.42"/>
<rect x="377.72" y="95.20" width="8.51" height="1.12" fill="#000000" stroke="#000" stroke-width="0.42"/>
<rect x="377.72" y="96.32" width="8.51" height="60.83" fill="#ff00ff" stroke="#000" stroke-width="0.42"/>
<rect x="386.23" y="95.20" width="8.51" height="1.12" fill="#000000" stroke="#000" stroke-width="0.42"/>
<rect x="386.23" y="96.32" width="8.51" height="60.83" fill="#ff00ff" stroke="#000" stroke-width="0.42"/>
<rect x="394.74" y="95.20" width="8.51" height="1.12" fill="#000000" stroke="#000" stroke-width="0.42"/>
<rect x="394.74" y="96.32" width="8.51" height="60.83" fill="#ff00ff" stroke="#000" stroke-width="0.42"/>
<rect x="403.25" y="95.20" width="8.51" height="1.12" fill="#000000" stroke="#000" stroke-width="0.42"/>
<rect x="403.25" y="96.32" width="8.51" height="60.83" fill="#ff00ff" stroke="#000" stroke-width="0.42"/>
<rect x="411.76" y="95.20" width="8.51" height="1.36" fill="#ff0000" stroke="#000" stroke-width="0.42"/>
<rect x="411.76" y="96.56" width="8.51" height="60.59" fill="#ff00ff" stroke="#000" stroke-width="0.42"/>
<rect x="420.27" y="95.20" width="8.51" height="1.55" fill="#00ff00" stroke="#000" stroke-width="0.42"/>
<rect x="420.27" y="96.75" width="8.51" height="60.40" fill="#ff00ff" stroke="#000" stroke-width="0.42"/>
<rect x="428.78" y="95.20" width="8.51" height="1.36" fill="#ff0000" stroke="#000" stroke-width="0.42"/>
<rect x="428.78" y="96.56" width="8.51" height="60.59" fill="#ff00ff" stroke="#000" stroke-width="0.42"/>
<rect x="437.29" y="95.20" width="8.51" height="4.34" fill="#0000ff" stroke="#000" stroke-width="0.42"/>
<rect x="437.29" y="99.54" width="8.51" height="0.74" fill="#000000" stroke="#000" stroke-width="0.42"/>
<rect x="437.29" y="100.28" width="8.51" height="56.87" fill="#ff00ff" stroke="#000" stroke-width="0.42"/>
<rect x="445.80" y="95.20" width="8.51" height="4.34" fill="#ff0000" stroke="#000" stroke-width="0.42"/>
<rect x="445.80" y="99.54" width="8.51" height="0.62" fill="#000000" stroke="#000" stroke-width="0.42"/>
<rect x="445.80" y="100.16" width="8.51" height="56.99" fill="#ff00ff" stroke="#000" stroke-width="0.42"/>
<rect x="454.31" y="95.20" width="8.51" height="5.64" fill="#0000ff" stroke="#000" stroke-width="0.42"/>
<rect x="454.31" y="100.84" width="8.51" height="56.31" fill="#ff00ff" stroke="#000" stroke-width="0.42"/>
<rect x="462.82" y="95.20" width="8.51" height="8.67" fill="#ff0000" stroke="#000" stroke-width="0.42"/>
<rect x="462.82" y="103.87" width="8.51" height="0.93" fill="#000000" stroke="#000" stroke-width="0.42"/>
<rect x="462.82" y="104.80" width="8.51" height="52.35" fill="#ff00ff" stroke="#000" stroke-width="0.42"/>
<rect x="471.33" y="95.20" width="8.51" height="2.73" fill="#00ff00" stroke="#000" stroke-width="0.42"/>
<rect x="471.33" y="97.93" width="8.51" height="11.27" fill="#ffff00" stroke="#000" stroke-width="0.42"/>
<rect x="471.33" y="109.20" width="8.51" height="47.95" fill="#ff00ff" stroke="#000" stroke-width="0.42"/>
<rect x="479.84" y="95.20" width="8.51" height="16.91" fill="#0000ff" stroke="#000" stroke-width="0.42"/>
<rect x="479.84" y="112.11" width="8.51" height="45.04" fill="#ff00ff" stroke="#000" stroke-width="0.42"/>
<rect x="488.35" y="95.20" width="8.51" height="0.93" fill="#000000" stroke="#000" stroke-width="0.42"/>
<rect x="488.35" y="96.13" width="8.51" height="18.40" fill="#ffff00" stroke="#000" stroke-width="0.42"/>
<rect x="488.35" y="114.53" width="8.51" height="42.62" fill="#ff00ff" stroke="#000" stroke-width="0.42"/>
<rect x="496.86" y="95.20" width="8.51" height="4.03" fill="#ff0000" stroke="#000" stroke-width="0.42"/>
<rect x="496.86" y="99.23" width="8.51" height="16.11" fill="#0000ff" stroke="#000" stroke-width="0.42"/>
<rect x="496.86" y="115.33" width="8.51" height="0.93" fill="#000000" stroke="#000" stroke-width="0.42"/>
<rect x="496.86" y="116.26" width="8.51" height="40.89" fill="#ff00ff" stroke="#000" stroke-width="0.42"/>
<rect x="505.37" y="95.20" width="8.51" height="25.71" fill="#ff0000" stroke="#000" stroke-width="0.42"/>
<rect x="505.37" y="120.91" width="8.51" height="0.81" fill="#000000" stroke="#000" stroke-width="0.42"/>
<rect x="505.37" y="121.71" width="8.51" height="35.44" fill="#ff00ff" stroke="#000" stroke-width="0.42"/>
<rect x="513.88" y="95.20" width="8.51" height="0.93" fill="#000000" stroke="#000" stroke-width="0.42"/>
<rect x="513.88" y="96.13" width="8.51" height="26.64" fill="#00ff00" stroke="#000" stroke-width="0.42"/>
<rect x="513.88" y="122.77" width="8.51" height="0.93" fill="#000000" stroke="#000" stroke-width="0.42"/>
<rect x="513.88" y="123.70" width="8.51" height="33.45" fill="#ff00ff" stroke="#000" stroke-width="0.42"/>
<rect x="522.39" y="95.20" width="8.51" height="22.86" fill="#ff0000" stroke="#000" stroke-width="0.42"/>
<rect x="522.39" y="118.06" width="8.51" height="8.49" fill="#00ff00" stroke="#000" stroke-width="0.42"/>
<rect x="522.39" y="126.55" width="8.51" height="30.60" fill="#ff00ff" stroke="#000" stroke-width="0.42"/>
<line x1="273.00" y1="95.30" x2="530.90" y2="95.30" stroke="#200" stroke-width="0.6"/>
<line x1="273.00" y1="157.40" x2="685.00" y2="157.40" stroke="#222" stroke-width="0.7"/>
<line x1="275.60" y1="93.20" x2="275.60" y2="157.15" stroke="#000" stroke-width="0.5"/>
<line x1="273.00" y1="95.35" x2="275.60" y2="95.35" stroke="#000" stroke-width="0.6"/>
<text x="271.10" y="96.21" font-size="5.2" text-anchor="end" textLength="7.7" lengthAdjust="spacingAndGlyphs" fill="#222" stroke="#222" stroke-width="0.18">1.00</text>
<line x1="273.00" y1="107.74" x2="275.60" y2="107.74" stroke="#000" stroke-width="0.6"/>
<text x="271.10" y="108.60" font-size="5.2" text-anchor="end" textLength="7.7" lengthAdjust="spacingAndGlyphs" fill="#222" stroke="#222" stroke-width="0.18">0.80</text>
<line x1="273.00" y1="120.13" x2="275.60" y2="120.13" stroke="#000" stroke-width="0.6"/>
<text x="271.10" y="120.99" font-size="5.2" text-anchor="end" textLength="7.7" lengthAdjust="spacingAndGlyphs" fill="#222" stroke="#222" stroke-width="0.18">0.60</text>
<line x1="273.00" y1="132.52" x2="275.60" y2="132.52" stroke="#000" stroke-width="0.6"/>
<text x="271.10" y="133.38" font-size="5.2" text-anchor="end" textLength="7.7" lengthAdjust="spacingAndGlyphs" fill="#222" stroke="#222" stroke-width="0.18">0.40</text>
<line x1="273.00" y1="144.91" x2="275.60" y2="144.91" stroke="#000" stroke-width="0.6"/>
<text x="271.10" y="145.77" font-size="5.2" text-anchor="end" textLength="7.7" lengthAdjust="spacingAndGlyphs" fill="#222" stroke="#222" stroke-width="0.18">0.20</text>
<line x1="273.00" y1="157.30" x2="275.60" y2="157.30" stroke="#000" stroke-width="0.6"/>
<text x="271.10" y="158.16" font-size="5.2" text-anchor="end" textLength="7.7" lengthAdjust="spacingAndGlyphs" fill="#222" stroke="#222" stroke-width="0.18">0.00</text>
<line x1="279.86" y1="157.65" x2="279.86" y2="159.75" stroke="#111" stroke-width="0.6"/>
<text x="279.86" y="165.16" font-size="5.2" text-anchor="middle" textLength="4.50" lengthAdjust="spacingAndGlyphs" fill="#222" stroke="#222" stroke-width="0.18">24</text>
<line x1="288.37" y1="157.65" x2="288.37" y2="160.55" stroke="#888" stroke-width="0.6"/>
<text x="288.37" y="170.61" font-size="5.2" text-anchor="middle" textLength="4.50" lengthAdjust="spacingAndGlyphs" fill="#222" stroke="#222" stroke-width="0.18">23</text>
<line x1="296.88" y1="157.65" x2="296.88" y2="159.75" stroke="#111" stroke-width="0.6"/>
<text x="296.88" y="165.16" font-size="5.2" text-anchor="middle" textLength="4.50" lengthAdjust="spacingAndGlyphs" fill="#222" stroke="#222" stroke-width="0.18">27</text>
<line x1="305.39" y1="157.65" x2="305.39" y2="160.55" stroke="#888" stroke-width="0.6"/>
<text x="305.39" y="170.61" font-size="5.2" text-anchor="middle" textLength="2.25" lengthAdjust="spacingAndGlyphs" fill="#222" stroke="#222" stroke-width="0.18">2</text>
<line x1="313.90" y1="157.65" x2="313.90" y2="159.75" stroke="#111" stroke-width="0.6"/>
<text x="313.90" y="165.16" font-size="5.2" text-anchor="middle" textLength="2.25" lengthAdjust="spacingAndGlyphs" fill="#222" stroke="#222" stroke-width="0.18">4</text>
<line x1="322.41" y1="157.65" x2="322.41" y2="160.55" stroke="#888" stroke-width="0.6"/>
<text x="322.41" y="170.61" font-size="5.2" text-anchor="middle" textLength="2.25" lengthAdjust="spacingAndGlyphs" fill="#222" stroke="#222" stroke-width="0.18">5</text>
<line x1="330.92" y1="157.65" x2="330.92" y2="159.75" stroke="#111" stroke-width="0.6"/>
<text x="330.92" y="165.16" font-size="5.2" text-anchor="middle" textLength="2.25" lengthAdjust="spacingAndGlyphs" fill="#222" stroke="#222" stroke-width="0.18">3</text>
<line x1="339.43" y1="157.65" x2="339.43" y2="160.55" stroke="#888" stroke-width="0.6"/>
<text x="339.43" y="170.61" font-size="5.2" text-anchor="middle" textLength="2.25" lengthAdjust="spacingAndGlyphs" fill="#222" stroke="#222" stroke-width="0.18">8</text>
<line x1="347.94" y1="157.65" x2="347.94" y2="159.75" stroke="#111" stroke-width="0.6"/>
<text x="347.94" y="165.16" font-size="5.2" text-anchor="middle" textLength="4.50" lengthAdjust="spacingAndGlyphs" fill="#222" stroke="#222" stroke-width="0.18">53</text>
<line x1="356.45" y1="157.65" x2="356.45" y2="160.55" stroke="#888" stroke-width="0.6"/>
<text x="356.45" y="170.61" font-size="5.2" text-anchor="middle" textLength="4.50" lengthAdjust="spacingAndGlyphs" fill="#222" stroke="#222" stroke-width="0.18">49</text>
<line x1="364.96" y1="157.65" x2="364.96" y2="159.75" stroke="#111" stroke-width="0.6"/>
<text x="364.96" y="165.16" font-size="5.2" text-anchor="middle" textLength="4.50" lengthAdjust="spacingAndGlyphs" fill="#222" stroke="#222" stroke-width="0.18">54</text>
<line x1="373.47" y1="157.65" x2="373.47" y2="160.55" stroke="#888" stroke-width="0.6"/>
<text x="373.47" y="170.61" font-size="5.2" text-anchor="middle" textLength="4.50" lengthAdjust="spacingAndGlyphs" fill="#222" stroke="#222" stroke-width="0.18">50</text>
<line x1="381.98" y1="157.65" x2="381.98" y2="159.75" stroke="#111" stroke-width="0.6"/>
<text x="381.98" y="165.16" font-size="5.2" text-anchor="middle" textLength="4.50" lengthAdjust="spacingAndGlyphs" fill="#222" stroke="#222" stroke-width="0.18">58</text>
<line x1="390.49" y1="157.65" x2="390.49" y2="160.55" stroke="#888" stroke-width="0.6"/>
<text x="390.49" y="170.61" font-size="5.2" text-anchor="middle" textLength="4.50" lengthAdjust="spacingAndGlyphs" fill="#222" stroke="#222" stroke-width="0.18">59</text>
<line x1="399.00" y1="157.65" x2="399.00" y2="159.75" stroke="#111" stroke-width="0.6"/>
<text x="399.00" y="165.16" font-size="5.2" text-anchor="middle" textLength="4.50" lengthAdjust="spacingAndGlyphs" fill="#222" stroke="#222" stroke-width="0.18">60</text>
<line x1="407.50" y1="157.65" x2="407.50" y2="160.55" stroke="#888" stroke-width="0.6"/>
<text x="407.50" y="170.61" font-size="5.2" text-anchor="middle" textLength="4.50" lengthAdjust="spacingAndGlyphs" fill="#222" stroke="#222" stroke-width="0.18">47</text>
<line x1="416.01" y1="157.65" x2="416.01" y2="159.75" stroke="#111" stroke-width="0.6"/>
<text x="416.01" y="165.16" font-size="5.2" text-anchor="middle" textLength="4.50" lengthAdjust="spacingAndGlyphs" fill="#222" stroke="#222" stroke-width="0.18">56</text>
<line x1="424.52" y1="157.65" x2="424.52" y2="160.55" stroke="#888" stroke-width="0.6"/>
<text x="424.52" y="170.61" font-size="5.2" text-anchor="middle" textLength="4.50" lengthAdjust="spacingAndGlyphs" fill="#222" stroke="#222" stroke-width="0.18">61</text>
<line x1="433.04" y1="157.65" x2="433.04" y2="159.75" stroke="#111" stroke-width="0.6"/>
<text x="433.04" y="165.16" font-size="5.2" text-anchor="middle" textLength="4.50" lengthAdjust="spacingAndGlyphs" fill="#222" stroke="#222" stroke-width="0.18">62</text>
<line x1="441.55" y1="157.65" x2="441.55" y2="160.55" stroke="#888" stroke-width="0.6"/>
<text x="441.55" y="170.61" font-size="5.2" text-anchor="middle" textLength="4.50" lengthAdjust="spacingAndGlyphs" fill="#222" stroke="#222" stroke-width="0.18">57</text>
<line x1="450.06" y1="157.65" x2="450.06" y2="159.75" stroke="#111" stroke-width="0.6"/>
<text x="450.06" y="165.16" font-size="5.2" text-anchor="middle" textLength="4.50" lengthAdjust="spacingAndGlyphs" fill="#222" stroke="#222" stroke-width="0.18">63</text>
<line x1="458.57" y1="157.65" x2="458.57" y2="160.55" stroke="#888" stroke-width="0.6"/>
<text x="458.57" y="170.61" font-size="5.2" text-anchor="middle" textLength="4.50" lengthAdjust="spacingAndGlyphs" fill="#222" stroke="#222" stroke-width="0.18">45</text>
<line x1="467.08" y1="157.65" x2="467.08" y2="159.75" stroke="#111" stroke-width="0.6"/>
<text x="467.08" y="165.16" font-size="5.2" text-anchor="middle" textLength="4.50" lengthAdjust="spacingAndGlyphs" fill="#222" stroke="#222" stroke-width="0.18">55</text>
<line x1="475.59" y1="157.65" x2="475.59" y2="160.55" stroke="#888" stroke-width="0.6"/>
<text x="475.59" y="170.61" font-size="5.2" text-anchor="middle" textLength="4.50" lengthAdjust="spacingAndGlyphs" fill="#222" stroke="#222" stroke-width="0.18">48</text>
<line x1="484.10" y1="157.65" x2="484.10" y2="159.75" stroke="#111" stroke-width="0.6"/>
<text x="484.10" y="165.16" font-size="5.2" text-anchor="middle" textLength="4.50" lengthAdjust="spacingAndGlyphs" fill="#222" stroke="#222" stroke-width="0.18">65</text>
<line x1="492.61" y1="157.65" x2="492.61" y2="160.55" stroke="#888" stroke-width="0.6"/>
<text x="492.61" y="170.61" font-size="5.2" text-anchor="middle" textLength="4.50" lengthAdjust="spacingAndGlyphs" fill="#222" stroke="#222" stroke-width="0.18">46</text>
<line x1="501.12" y1="157.65" x2="501.12" y2="159.75" stroke="#111" stroke-width="0.6"/>
<text x="501.12" y="165.16" font-size="5.2" text-anchor="middle" textLength="4.50" lengthAdjust="spacingAndGlyphs" fill="#222" stroke="#222" stroke-width="0.18">64</text>
<line x1="509.62" y1="157.65" x2="509.62" y2="160.55" stroke="#888" stroke-width="0.6"/>
<text x="509.62" y="170.61" font-size="5.2" text-anchor="middle" textLength="4.50" lengthAdjust="spacingAndGlyphs" fill="#222" stroke="#222" stroke-width="0.18">51</text>
<line x1="518.13" y1="157.65" x2="518.13" y2="159.75" stroke="#111" stroke-width="0.6"/>
<text x="518.13" y="165.16" font-size="5.2" text-anchor="middle" textLength="4.50" lengthAdjust="spacingAndGlyphs" fill="#222" stroke="#222" stroke-width="0.18">66</text>
<line x1="526.64" y1="157.65" x2="526.64" y2="160.55" stroke="#888" stroke-width="0.6"/>
<text x="526.64" y="170.61" font-size="5.2" text-anchor="middle" textLength="4.50" lengthAdjust="spacingAndGlyphs" fill="#222" stroke="#222" stroke-width="0.18">52</text>
</g>
<g stroke-opacity="0.72">
<rect x="275.60" y="199.70" width="8.49" height="58.55" fill="#ff0000" stroke="#000" stroke-width="0.42"/>
<rect x="284.09" y="199.70" width="8.49" height="58.55" fill="#ff0000" stroke="#000" stroke-width="0.42"/>
<rect x="292.58" y="199.70" width="8.49" height="58.55" fill="#ff0000" stroke="#000" stroke-width="0.42"/>
<rect x="301.07" y="199.70" width="8.49" height="57.85" fill="#ff0000" stroke="#000" stroke-width="0.42"/>
<rect x="301.07" y="257.55" width="8.49" height="0.70" fill="#00ff00" stroke="#000" stroke-width="0.42"/>
<rect x="309.56" y="199.70" width="8.49" height="57.85" fill="#ff0000" stroke="#000" stroke-width="0.42"/>
<rect x="309.56" y="257.55" width="8.49" height="0.70" fill="#000000" stroke="#000" stroke-width="0.42"/>
<rect x="318.05" y="199.70" width="8.49" height="57.09" fill="#ff0000" stroke="#000" stroke-width="0.42"/>
<rect x="318.05" y="256.79" width="8.49" height="1.46" fill="#00ff00" stroke="#000" stroke-width="0.42"/>
<rect x="326.54" y="199.70" width="8.49" height="53.10" fill="#ff0000" stroke="#000" stroke-width="0.42"/>
<rect x="326.54" y="252.80" width="8.49" height="5.45" fill="#00ff00" stroke="#000" stroke-width="0.42"/>
<rect x="335.03" y="199.70" width="8.49" height="51.00" fill="#ff0000" stroke="#000" stroke-width="0.42"/>
<rect x="335.03" y="250.70" width="8.49" height="7.55" fill="#00ff00" stroke="#000" stroke-width="0.42"/>
<rect x="343.52" y="199.70" width="8.49" height="49.24" fill="#ff0000" stroke="#000" stroke-width="0.42"/>
<rect x="343.52" y="248.94" width="8.49" height="8.84" fill="#00ff00" stroke="#000" stroke-width="0.42"/>
<rect x="343.52" y="257.78" width="8.49" height="0.47" fill="#000000" stroke="#000" stroke-width="0.42"/>
<rect x="352.01" y="199.70" width="8.49" height="42.16" fill="#ff0000" stroke="#000" stroke-width="0.42"/>
<rect x="352.01" y="241.86" width="8.49" height="16.39" fill="#00ff00" stroke="#000" stroke-width="0.42"/>
<rect x="360.50" y="199.70" width="8.49" height="40.69" fill="#ff0000" stroke="#000" stroke-width="0.42"/>
<rect x="360.50" y="240.39" width="8.49" height="1.17" fill="#00ff00" stroke="#000" stroke-width="0.42"/>
<rect x="360.50" y="241.56" width="8.49" height="16.69" fill="#0000ff" stroke="#000" stroke-width="0.42"/>
<rect x="368.99" y="199.70" width="8.49" height="39.81" fill="#ff0000" stroke="#000" stroke-width="0.42"/>
<rect x="368.99" y="239.51" width="8.49" height="18.74" fill="#00ff00" stroke="#000" stroke-width="0.42"/>
<rect x="377.48" y="199.70" width="8.49" height="21.72" fill="#ff0000" stroke="#000" stroke-width="0.42"/>
<rect x="377.48" y="221.42" width="8.49" height="20.67" fill="#00ff00" stroke="#000" stroke-width="0.42"/>
<rect x="377.48" y="242.09" width="8.49" height="16.16" fill="#0000ff" stroke="#000" stroke-width="0.42"/>
<rect x="385.97" y="199.70" width="8.49" height="58.55" fill="#00ff00" stroke="#000" stroke-width="0.42"/>
<rect x="394.46" y="199.70" width="8.49" height="58.55" fill="#00ff00" stroke="#000" stroke-width="0.42"/>
<rect x="402.95" y="199.70" width="8.49" height="58.55" fill="#00ff00" stroke="#000" stroke-width="0.42"/>
<rect x="411.44" y="199.70" width="8.49" height="58.55" fill="#00ff00" stroke="#000" stroke-width="0.42"/>
<rect x="419.93" y="199.70" width="8.49" height="58.55" fill="#00ff00" stroke="#000" stroke-width="0.42"/>
<rect x="428.42" y="199.70" width="8.49" height="58.55" fill="#00ff00" stroke="#000" stroke-width="0.42"/>
<rect x="436.91" y="199.70" width="8.49" height="58.55" fill="#00ff00" stroke="#000" stroke-width="0.42"/>
<rect x="445.40" y="199.70" width="8.49" height="58.55" fill="#00ff00" stroke="#000" stroke-width="0.42"/>
<rect x="453.89" y="199.70" width="8.49" height="58.55" fill="#00ff00" stroke="#000" stroke-width="0.42"/>
<rect x="462.38" y="199.70" width="8.49" height="58.55" fill="#00ff00" stroke="#000" stroke-width="0.42"/>
<rect x="470.87" y="199.70" width="8.49" height="58.08" fill="#00ff00" stroke="#000" stroke-width="0.42"/>
<rect x="470.87" y="257.78" width="8.49" height="0.47" fill="#000000" stroke="#000" stroke-width="0.42"/>
<rect x="479.36" y="199.70" width="8.49" height="0.88" fill="#ff0000" stroke="#000" stroke-width="0.42"/>
<rect x="479.36" y="200.58" width="8.49" height="57.67" fill="#00ff00" stroke="#000" stroke-width="0.42"/>
<rect x="487.85" y="199.70" width="8.49" height="58.08" fill="#00ff00" stroke="#000" stroke-width="0.42"/>
<rect x="487.85" y="257.78" width="8.49" height="0.47" fill="#000000" stroke="#000" stroke-width="0.42"/>
<rect x="496.34" y="199.70" width="8.49" height="58.08" fill="#00ff00" stroke="#000" stroke-width="0.42"/>
<rect x="496.34" y="257.78" width="8.49" height="0.47" fill="#000000" stroke="#000" stroke-width="0.42"/>
<rect x="504.83" y="199.70" width="8.49" height="0.88" fill="#ff0000" stroke="#000" stroke-width="0.42"/>
<rect x="504.83" y="200.58" width="8.49" height="57.67" fill="#00ff00" stroke="#000" stroke-width="0.42"/>
<rect x="513.32" y="199.70" width="8.49" height="58.08" fill="#00ff00" stroke="#000" stroke-width="0.42"/>
<rect x="513.32" y="257.78" width="8.49" height="0.47" fill="#000000" stroke="#000" stroke-width="0.42"/>
<rect x="521.81" y="199.70" width="8.49" height="0.70" fill="#ff0000" stroke="#000" stroke-width="0.42"/>
<rect x="521.81" y="200.40" width="8.49" height="56.68" fill="#00ff00" stroke="#000" stroke-width="0.42"/>
<rect x="521.81" y="257.08" width="8.49" height="1.17" fill="#0000ff" stroke="#000" stroke-width="0.42"/>
<rect x="530.30" y="199.70" width="8.49" height="0.70" fill="#ff0000" stroke="#000" stroke-width="0.42"/>
<rect x="530.30" y="200.40" width="8.49" height="57.26" fill="#00ff00" stroke="#000" stroke-width="0.42"/>
<rect x="530.30" y="257.66" width="8.49" height="0.59" fill="#0000ff" stroke="#000" stroke-width="0.42"/>
<rect x="538.79" y="199.70" width="8.49" height="1.46" fill="#ff0000" stroke="#000" stroke-width="0.42"/>
<rect x="538.79" y="201.16" width="8.49" height="55.62" fill="#00ff00" stroke="#000" stroke-width="0.42"/>
<rect x="538.79" y="256.79" width="8.49" height="1.46" fill="#0000ff" stroke="#000" stroke-width="0.42"/>
<rect x="547.28" y="199.70" width="8.49" height="3.22" fill="#ff0000" stroke="#000" stroke-width="0.42"/>
<rect x="547.28" y="202.92" width="8.49" height="54.74" fill="#00ff00" stroke="#000" stroke-width="0.42"/>
<rect x="547.28" y="257.66" width="8.49" height="0.59" fill="#0000ff" stroke="#000" stroke-width="0.42"/>
<rect x="555.77" y="199.70" width="8.49" height="54.45" fill="#00ff00" stroke="#000" stroke-width="0.42"/>
<rect x="555.77" y="254.15" width="8.49" height="4.10" fill="#0000ff" stroke="#000" stroke-width="0.42"/>
<rect x="564.26" y="199.70" width="8.49" height="8.34" fill="#ff0000" stroke="#000" stroke-width="0.42"/>
<rect x="564.26" y="208.04" width="8.49" height="50.21" fill="#00ff00" stroke="#000" stroke-width="0.42"/>
<rect x="572.75" y="199.70" width="8.49" height="3.22" fill="#ff0000" stroke="#000" stroke-width="0.42"/>
<rect x="572.75" y="202.92" width="8.49" height="50.06" fill="#00ff00" stroke="#000" stroke-width="0.42"/>
<rect x="572.75" y="252.98" width="8.49" height="5.27" fill="#0000ff" stroke="#000" stroke-width="0.42"/>
<rect x="581.24" y="199.70" width="8.49" height="18.59" fill="#ff0000" stroke="#000" stroke-width="0.42"/>
<rect x="581.24" y="218.29" width="8.49" height="39.96" fill="#00ff00" stroke="#000" stroke-width="0.42"/>
<rect x="589.73" y="199.70" width="8.49" height="36.59" fill="#00ff00" stroke="#000" stroke-width="0.42"/>
<rect x="589.73" y="236.29" width="8.49" height="21.96" fill="#0000ff" stroke="#000" stroke-width="0.42"/>
<rect x="598.22" y="199.70" width="8.49" height="58.55" fill="#0000ff" stroke="#000" stroke-width="0.42"/>
<rect x="606.71" y="199.70" width="8.49" height="58.55" fill="#0000ff" stroke="#000" stroke-width="0.42"/>
<rect x="615.20" y="199.70" width="8.49" height="58.55" fill="#0000ff" stroke="#000" stroke-width="0.42"/>
<rect x="623.69" y="199.70" width="8.49" height="58.55" fill="#0000ff" stroke="#000" stroke-width="0.42"/>
<rect x="632.18" y="199.70" width="8.49" height="58.55" fill="#0000ff" stroke="#000" stroke-width="0.42"/>
<rect x="640.67" y="199.70" width="8.49" height="58.55" fill="#0000ff" stroke="#000" stroke-width="0.42"/>
<rect x="649.16" y="199.70" width="8.49" height="58.55" fill="#0000ff" stroke="#000" stroke-width="0.42"/>
<rect x="657.65" y="199.70" width="8.49" height="58.55" fill="#0000ff" stroke="#000" stroke-width="0.42"/>
<rect x="666.14" y="199.70" width="8.49" height="58.55" fill="#0000ff" stroke="#000" stroke-width="0.42"/>
<rect x="674.63" y="199.70" width="8.49" height="58.55" fill="#0000ff" stroke="#000" stroke-width="0.42"/>
<rect x="683.12" y="199.70" width="8.49" height="58.55" fill="#0000ff" stroke="#000" stroke-width="0.42"/>
<line x1="273.00" y1="199.80" x2="685.00" y2="199.80" stroke="#200" stroke-width="0.3"/>
<line x1="273.00" y1="258.50" x2="685.00" y2="258.50" stroke="#222" stroke-width="0.7"/>
<line x1="275.60" y1="197.70" x2="275.60" y2="258.25" stroke="#000" stroke-width="0.5"/>
<line x1="273.00" y1="199.85" x2="275.60" y2="199.85" stroke="#000" stroke-width="0.6"/>
<text x="271.10" y="200.71" font-size="5.2" text-anchor="end" textLength="7.7" lengthAdjust="spacingAndGlyphs" fill="#222" stroke="#222" stroke-width="0.18">1.00</text>
<line x1="273.00" y1="211.56" x2="275.60" y2="211.56" stroke="#000" stroke-width="0.6"/>
<text x="271.10" y="212.42" font-size="5.2" text-anchor="end" textLength="7.7" lengthAdjust="spacingAndGlyphs" fill="#222" stroke="#222" stroke-width="0.18">0.80</text>
<line x1="273.00" y1="223.27" x2="275.60" y2="223.27" stroke="#000" stroke-width="0.6"/>
<text x="271.10" y="224.13" font-size="5.2" text-anchor="end" textLength="7.7" lengthAdjust="spacingAndGlyphs" fill="#222" stroke="#222" stroke-width="0.18">0.60</text>
<line x1="273.00" y1="234.98" x2="275.60" y2="234.98" stroke="#000" stroke-width="0.6"/>
<text x="271.10" y="235.84" font-size="5.2" text-anchor="end" textLength="7.7" lengthAdjust="spacingAndGlyphs" fill="#222" stroke="#222" stroke-width="0.18">0.40</text>
<line x1="273.00" y1="246.69" x2="275.60" y2="246.69" stroke="#000" stroke-width="0.6"/>
<text x="271.10" y="247.55" font-size="5.2" text-anchor="end" textLength="7.7" lengthAdjust="spacingAndGlyphs" fill="#222" stroke="#222" stroke-width="0.18">0.20</text>
<line x1="273.00" y1="258.40" x2="275.60" y2="258.40" stroke="#000" stroke-width="0.6"/>
<text x="271.10" y="259.26" font-size="5.2" text-anchor="end" textLength="7.7" lengthAdjust="spacingAndGlyphs" fill="#222" stroke="#222" stroke-width="0.18">0.00</text>
<line x1="279.85" y1="258.75" x2="279.85" y2="260.85" stroke="#111" stroke-width="0.6"/>
<text x="279.85" y="265.81" font-size="5.2" text-anchor="middle" textLength="4.50" lengthAdjust="spacingAndGlyphs" fill="#222" stroke="#222" stroke-width="0.18">58</text>
<line x1="288.34" y1="258.75" x2="288.34" y2="261.65" stroke="#888" stroke-width="0.6"/>
<text x="288.34" y="270.86" font-size="5.2" text-anchor="middle" textLength="4.50" lengthAdjust="spacingAndGlyphs" fill="#222" stroke="#222" stroke-width="0.18">59</text>
<line x1="296.83" y1="258.75" x2="296.83" y2="260.85" stroke="#111" stroke-width="0.6"/>
<text x="296.83" y="265.81" font-size="5.2" text-anchor="middle" textLength="2.25" lengthAdjust="spacingAndGlyphs" fill="#222" stroke="#222" stroke-width="0.18">2</text>
<line x1="305.31" y1="258.75" x2="305.31" y2="261.65" stroke="#888" stroke-width="0.6"/>
<text x="305.31" y="270.86" font-size="5.2" text-anchor="middle" textLength="4.50" lengthAdjust="spacingAndGlyphs" fill="#222" stroke="#222" stroke-width="0.18">57</text>
<line x1="313.81" y1="258.75" x2="313.81" y2="260.85" stroke="#111" stroke-width="0.6"/>
<text x="313.81" y="265.81" font-size="5.2" text-anchor="middle" textLength="4.50" lengthAdjust="spacingAndGlyphs" fill="#222" stroke="#222" stroke-width="0.18">60</text>
<line x1="322.30" y1="258.75" x2="322.30" y2="261.65" stroke="#888" stroke-width="0.6"/>
<text x="322.30" y="270.86" font-size="5.2" text-anchor="middle" textLength="4.50" lengthAdjust="spacingAndGlyphs" fill="#222" stroke="#222" stroke-width="0.18">62</text>
<line x1="330.79" y1="258.75" x2="330.79" y2="260.85" stroke="#111" stroke-width="0.6"/>
<text x="330.79" y="265.81" font-size="5.2" text-anchor="middle" textLength="4.50" lengthAdjust="spacingAndGlyphs" fill="#222" stroke="#222" stroke-width="0.18">64</text>
<line x1="339.28" y1="258.75" x2="339.28" y2="261.65" stroke="#888" stroke-width="0.6"/>
<text x="339.28" y="270.86" font-size="5.2" text-anchor="middle" textLength="4.50" lengthAdjust="spacingAndGlyphs" fill="#222" stroke="#222" stroke-width="0.18">65</text>
<line x1="347.77" y1="258.75" x2="347.77" y2="260.85" stroke="#111" stroke-width="0.6"/>
<text x="347.77" y="265.81" font-size="5.2" text-anchor="middle" textLength="4.50" lengthAdjust="spacingAndGlyphs" fill="#222" stroke="#222" stroke-width="0.18">63</text>
<line x1="356.25" y1="258.75" x2="356.25" y2="261.65" stroke="#888" stroke-width="0.6"/>
<text x="356.25" y="270.86" font-size="5.2" text-anchor="middle" textLength="4.50" lengthAdjust="spacingAndGlyphs" fill="#222" stroke="#222" stroke-width="0.18">61</text>
<line x1="364.75" y1="258.75" x2="364.75" y2="260.85" stroke="#111" stroke-width="0.6"/>
<text x="364.75" y="265.81" font-size="5.2" text-anchor="middle" textLength="4.50" lengthAdjust="spacingAndGlyphs" fill="#222" stroke="#222" stroke-width="0.18">19</text>
<line x1="373.24" y1="258.75" x2="373.24" y2="261.65" stroke="#888" stroke-width="0.6"/>
<text x="373.24" y="270.86" font-size="5.2" text-anchor="middle" textLength="4.50" lengthAdjust="spacingAndGlyphs" fill="#222" stroke="#222" stroke-width="0.18">66</text>
<line x1="381.73" y1="258.75" x2="381.73" y2="260.85" stroke="#111" stroke-width="0.6"/>
<text x="381.73" y="265.81" font-size="5.2" text-anchor="middle" textLength="4.50" lengthAdjust="spacingAndGlyphs" fill="#222" stroke="#222" stroke-width="0.18">56</text>
<line x1="390.22" y1="258.75" x2="390.22" y2="261.65" stroke="#888" stroke-width="0.6"/>
<text x="390.22" y="270.86" font-size="5.2" text-anchor="middle" textLength="4.50" lengthAdjust="spacingAndGlyphs" fill="#222" stroke="#222" stroke-width="0.18">77</text>
<line x1="398.71" y1="258.75" x2="398.71" y2="260.85" stroke="#111" stroke-width="0.6"/>
<text x="398.71" y="265.81" font-size="5.2" text-anchor="middle" textLength="4.50" lengthAdjust="spacingAndGlyphs" fill="#222" stroke="#222" stroke-width="0.18">68</text>
<line x1="407.20" y1="258.75" x2="407.20" y2="261.65" stroke="#888" stroke-width="0.6"/>
<text x="407.20" y="270.86" font-size="5.2" text-anchor="middle" textLength="4.50" lengthAdjust="spacingAndGlyphs" fill="#222" stroke="#222" stroke-width="0.18">72</text>
<line x1="415.69" y1="258.75" x2="415.69" y2="260.85" stroke="#111" stroke-width="0.6"/>
<text x="415.69" y="265.81" font-size="5.2" text-anchor="middle" textLength="4.50" lengthAdjust="spacingAndGlyphs" fill="#222" stroke="#222" stroke-width="0.18">73</text>
<line x1="424.18" y1="258.75" x2="424.18" y2="261.65" stroke="#888" stroke-width="0.6"/>
<text x="424.18" y="270.86" font-size="5.2" text-anchor="middle" textLength="4.50" lengthAdjust="spacingAndGlyphs" fill="#222" stroke="#222" stroke-width="0.18">78</text>
<line x1="432.67" y1="258.75" x2="432.67" y2="260.85" stroke="#111" stroke-width="0.6"/>
<text x="432.67" y="265.81" font-size="5.2" text-anchor="middle" textLength="4.50" lengthAdjust="spacingAndGlyphs" fill="#222" stroke="#222" stroke-width="0.18">47</text>
<line x1="441.16" y1="258.75" x2="441.16" y2="261.65" stroke="#888" stroke-width="0.6"/>
<text x="441.16" y="270.86" font-size="5.2" text-anchor="middle" textLength="4.50" lengthAdjust="spacingAndGlyphs" fill="#222" stroke="#222" stroke-width="0.18">69</text>
<line x1="449.65" y1="258.75" x2="449.65" y2="260.85" stroke="#111" stroke-width="0.6"/>
<text x="449.65" y="265.81" font-size="5.2" text-anchor="middle" textLength="4.50" lengthAdjust="spacingAndGlyphs" fill="#222" stroke="#222" stroke-width="0.18">74</text>
<line x1="458.13" y1="258.75" x2="458.13" y2="261.65" stroke="#888" stroke-width="0.6"/>
<text x="458.13" y="270.86" font-size="5.2" text-anchor="middle" textLength="4.50" lengthAdjust="spacingAndGlyphs" fill="#222" stroke="#222" stroke-width="0.18">70</text>
<line x1="466.62" y1="258.75" x2="466.62" y2="260.85" stroke="#111" stroke-width="0.6"/>
<text x="466.62" y="265.81" font-size="5.2" text-anchor="middle" textLength="4.50" lengthAdjust="spacingAndGlyphs" fill="#222" stroke="#222" stroke-width="0.18">48</text>
<line x1="475.12" y1="258.75" x2="475.12" y2="261.65" stroke="#888" stroke-width="0.6"/>
<text x="475.12" y="270.86" font-size="5.2" text-anchor="middle" textLength="4.50" lengthAdjust="spacingAndGlyphs" fill="#222" stroke="#222" stroke-width="0.18">45</text>
<line x1="483.61" y1="258.75" x2="483.61" y2="260.85" stroke="#111" stroke-width="0.6"/>
<text x="483.61" y="265.81" font-size="5.2" text-anchor="middle" textLength="4.50" lengthAdjust="spacingAndGlyphs" fill="#222" stroke="#222" stroke-width="0.18">79</text>
<line x1="492.10" y1="258.75" x2="492.10" y2="261.65" stroke="#888" stroke-width="0.6"/>
<text x="492.10" y="270.86" font-size="5.2" text-anchor="middle" textLength="4.50" lengthAdjust="spacingAndGlyphs" fill="#222" stroke="#222" stroke-width="0.18">75</text>
<line x1="500.59" y1="258.75" x2="500.59" y2="260.85" stroke="#111" stroke-width="0.6"/>
<text x="500.59" y="265.81" font-size="5.2" text-anchor="middle" textLength="4.50" lengthAdjust="spacingAndGlyphs" fill="#222" stroke="#222" stroke-width="0.18">49</text>
<line x1="509.08" y1="258.75" x2="509.08" y2="261.65" stroke="#888" stroke-width="0.6"/>
<text x="509.08" y="270.86" font-size="5.2" text-anchor="middle" textLength="4.50" lengthAdjust="spacingAndGlyphs" fill="#222" stroke="#222" stroke-width="0.18">67</text>
<line x1="517.57" y1="258.75" x2="517.57" y2="260.85" stroke="#111" stroke-width="0.6"/>
<text x="517.57" y="265.81" font-size="5.2" text-anchor="middle" textLength="4.50" lengthAdjust="spacingAndGlyphs" fill="#222" stroke="#222" stroke-width="0.18">51</text>
<line x1="526.06" y1="258.75" x2="526.06" y2="261.65" stroke="#888" stroke-width="0.6"/>
<text x="526.06" y="270.86" font-size="5.2" text-anchor="middle" textLength="4.50" lengthAdjust="spacingAndGlyphs" fill="#222" stroke="#222" stroke-width="0.18">71</text>
<line x1="534.55" y1="258.75" x2="534.55" y2="260.85" stroke="#111" stroke-width="0.6"/>
<text x="534.55" y="265.81" font-size="5.2" text-anchor="middle" textLength="4.50" lengthAdjust="spacingAndGlyphs" fill="#222" stroke="#222" stroke-width="0.18">76</text>
<line x1="543.04" y1="258.75" x2="543.04" y2="261.65" stroke="#888" stroke-width="0.6"/>
<text x="543.04" y="270.86" font-size="5.2" text-anchor="middle" textLength="4.50" lengthAdjust="spacingAndGlyphs" fill="#222" stroke="#222" stroke-width="0.18">52</text>
<line x1="551.53" y1="258.75" x2="551.53" y2="260.85" stroke="#111" stroke-width="0.6"/>
<text x="551.53" y="265.81" font-size="5.2" text-anchor="middle" textLength="4.50" lengthAdjust="spacingAndGlyphs" fill="#222" stroke="#222" stroke-width="0.18">50</text>
<line x1="560.02" y1="258.75" x2="560.02" y2="261.65" stroke="#888" stroke-width="0.6"/>
<text x="560.02" y="270.86" font-size="5.2" text-anchor="middle" textLength="4.50" lengthAdjust="spacingAndGlyphs" fill="#222" stroke="#222" stroke-width="0.18">53</text>
<line x1="568.51" y1="258.75" x2="568.51" y2="260.85" stroke="#111" stroke-width="0.6"/>
<text x="568.51" y="265.81" font-size="5.2" text-anchor="middle" textLength="4.50" lengthAdjust="spacingAndGlyphs" fill="#222" stroke="#222" stroke-width="0.18">46</text>
<line x1="577.00" y1="258.75" x2="577.00" y2="261.65" stroke="#888" stroke-width="0.6"/>
<text x="577.00" y="270.86" font-size="5.2" text-anchor="middle" textLength="4.50" lengthAdjust="spacingAndGlyphs" fill="#222" stroke="#222" stroke-width="0.18">54</text>
<line x1="585.49" y1="258.75" x2="585.49" y2="260.85" stroke="#111" stroke-width="0.6"/>
<text x="585.49" y="265.81" font-size="5.2" text-anchor="middle" textLength="4.50" lengthAdjust="spacingAndGlyphs" fill="#222" stroke="#222" stroke-width="0.18">60</text>
<line x1="593.98" y1="258.75" x2="593.98" y2="261.65" stroke="#888" stroke-width="0.6"/>
<text x="593.98" y="270.86" font-size="5.2" text-anchor="middle" textLength="4.50" lengthAdjust="spacingAndGlyphs" fill="#222" stroke="#222" stroke-width="0.18">55</text>
<line x1="602.47" y1="258.75" x2="602.47" y2="260.85" stroke="#111" stroke-width="0.6"/>
<text x="602.47" y="265.81" font-size="5.2" text-anchor="middle" textLength="4.50" lengthAdjust="spacingAndGlyphs" fill="#222" stroke="#222" stroke-width="0.18">30</text>
<line x1="610.96" y1="258.75" x2="610.96" y2="261.65" stroke="#888" stroke-width="0.6"/>
<text x="610.96" y="270.86" font-size="5.2" text-anchor="middle" textLength="4.50" lengthAdjust="spacingAndGlyphs" fill="#222" stroke="#222" stroke-width="0.18">37</text>
<line x1="619.45" y1="258.75" x2="619.45" y2="260.85" stroke="#111" stroke-width="0.6"/>
<text x="619.45" y="265.81" font-size="5.2" text-anchor="middle" textLength="2.25" lengthAdjust="spacingAndGlyphs" fill="#222" stroke="#222" stroke-width="0.18">3</text>
<line x1="627.94" y1="258.75" x2="627.94" y2="261.65" stroke="#888" stroke-width="0.6"/>
<text x="627.94" y="270.86" font-size="5.2" text-anchor="middle" textLength="4.50" lengthAdjust="spacingAndGlyphs" fill="#222" stroke="#222" stroke-width="0.18">25</text>
<line x1="636.42" y1="258.75" x2="636.42" y2="260.85" stroke="#111" stroke-width="0.6"/>
<text x="636.42" y="265.81" font-size="5.2" text-anchor="middle" textLength="4.50" lengthAdjust="spacingAndGlyphs" fill="#222" stroke="#222" stroke-width="0.18">28</text>
<line x1="644.91" y1="258.75" x2="644.91" y2="261.65" stroke="#888" stroke-width="0.6"/>
<text x="644.91" y="270.86" font-size="5.2" text-anchor="middle" textLength="4.50" lengthAdjust="spacingAndGlyphs" fill="#222" stroke="#222" stroke-width="0.18">29</text>
<line x1="653.40" y1="258.75" x2="653.40" y2="260.85" stroke="#111" stroke-width="0.6"/>
<text x="653.40" y="265.81" font-size="5.2" text-anchor="middle" textLength="4.50" lengthAdjust="spacingAndGlyphs" fill="#222" stroke="#222" stroke-width="0.18">39</text>
<line x1="661.89" y1="258.75" x2="661.89" y2="261.65" stroke="#888" stroke-width="0.6"/>
<text x="661.89" y="270.86" font-size="5.2" text-anchor="middle" textLength="4.50" lengthAdjust="spacingAndGlyphs" fill="#222" stroke="#222" stroke-width="0.18">42</text>
<line x1="670.38" y1="258.75" x2="670.38" y2="260.85" stroke="#111" stroke-width="0.6"/>
<text x="670.38" y="265.81" font-size="5.2" text-anchor="middle" textLength="4.50" lengthAdjust="spacingAndGlyphs" fill="#222" stroke="#222" stroke-width="0.18">11</text>
<line x1="678.88" y1="258.75" x2="678.88" y2="261.65" stroke="#888" stroke-width="0.6"/>
<text x="678.88" y="270.86" font-size="5.2" text-anchor="middle" textLength="4.50" lengthAdjust="spacingAndGlyphs" fill="#222" stroke="#222" stroke-width="0.18">14</text>
<line x1="687.37" y1="258.75" x2="687.37" y2="260.85" stroke="#111" stroke-width="0.6"/>
<text x="687.37" y="265.81" font-size="5.2" text-anchor="middle" textLength="4.50" lengthAdjust="spacingAndGlyphs" fill="#222" stroke="#222" stroke-width="0.18">26</text>
</g>
<g stroke-opacity="0.72">
<rect x="275.60" y="284.00" width="8.49" height="0.88" fill="#000000" stroke="#000" stroke-width="0.42"/>
<rect x="275.60" y="284.88" width="8.49" height="57.57" fill="#0000ff" stroke="#000" stroke-width="0.42"/>
<rect x="284.09" y="284.00" width="8.49" height="0.88" fill="#000000" stroke="#000" stroke-width="0.42"/>
<rect x="284.09" y="284.88" width="8.49" height="57.57" fill="#0000ff" stroke="#000" stroke-width="0.42"/>
<rect x="292.58" y="284.00" width="8.49" height="0.88" fill="#000000" stroke="#000" stroke-width="0.42"/>
<rect x="292.58" y="284.88" width="8.49" height="57.57" fill="#0000ff" stroke="#000" stroke-width="0.42"/>
<rect x="301.07" y="284.00" width="8.49" height="0.88" fill="#000000" stroke="#000" stroke-width="0.42"/>
<rect x="301.07" y="284.88" width="8.49" height="57.57" fill="#0000ff" stroke="#000" stroke-width="0.42"/>
<rect x="309.56" y="284.00" width="8.49" height="0.88" fill="#000000" stroke="#000" stroke-width="0.42"/>
<rect x="309.56" y="284.88" width="8.49" height="57.57" fill="#0000ff" stroke="#000" stroke-width="0.42"/>
<rect x="318.05" y="284.00" width="8.49" height="1.05" fill="#ff0000" stroke="#000" stroke-width="0.42"/>
<rect x="318.05" y="285.05" width="8.49" height="57.40" fill="#0000ff" stroke="#000" stroke-width="0.42"/>
<rect x="326.54" y="284.00" width="8.49" height="1.05" fill="#00ff00" stroke="#000" stroke-width="0.42"/>
<rect x="326.54" y="285.05" width="8.49" height="57.40" fill="#0000ff" stroke="#000" stroke-width="0.42"/>
<rect x="335.03" y="284.00" width="8.49" height="1.29" fill="#ff0000" stroke="#000" stroke-width="0.42"/>
<rect x="335.03" y="285.29" width="8.49" height="57.16" fill="#0000ff" stroke="#000" stroke-width="0.42"/>
<rect x="343.52" y="284.00" width="8.49" height="1.05" fill="#00ff00" stroke="#000" stroke-width="0.42"/>
<rect x="343.52" y="285.05" width="8.49" height="57.40" fill="#0000ff" stroke="#000" stroke-width="0.42"/>
<rect x="352.01" y="284.00" width="8.49" height="1.05" fill="#00ff00" stroke="#000" stroke-width="0.42"/>
<rect x="352.01" y="285.05" width="8.49" height="57.40" fill="#0000ff" stroke="#000" stroke-width="0.42"/>
<rect x="360.50" y="284.00" width="8.49" height="1.05" fill="#00ff00" stroke="#000" stroke-width="0.42"/>
<rect x="360.50" y="285.05" width="8.49" height="57.40" fill="#0000ff" stroke="#000" stroke-width="0.42"/>
<rect x="368.99" y="284.00" width="8.49" height="1.64" fill="#00ff00" stroke="#000" stroke-width="0.42"/>
<rect x="368.99" y="285.64" width="8.49" height="56.81" fill="#0000ff" stroke="#000" stroke-width="0.42"/>
<rect x="377.48" y="284.00" width="8.49" height="1.64" fill="#ff0000" stroke="#000" stroke-width="0.42"/>
<rect x="377.48" y="285.64" width="8.49" height="56.81" fill="#0000ff" stroke="#000" stroke-width="0.42"/>
<rect x="385.97" y="284.00" width="8.49" height="1.87" fill="#ff0000" stroke="#000" stroke-width="0.42"/>
<rect x="385.97" y="285.87" width="8.49" height="56.58" fill="#0000ff" stroke="#000" stroke-width="0.42"/>
<rect x="394.46" y="284.00" width="8.49" height="2.05" fill="#ff0000" stroke="#000" stroke-width="0.42"/>
<rect x="394.46" y="286.05" width="8.49" height="56.40" fill="#0000ff" stroke="#000" stroke-width="0.42"/>
<rect x="402.95" y="284.00" width="8.49" height="1.64" fill="#00ff00" stroke="#000" stroke-width="0.42"/>
<rect x="402.95" y="285.64" width="8.49" height="56.81" fill="#0000ff" stroke="#000" stroke-width="0.42"/>
<rect x="411.44" y="284.00" width="8.49" height="1.64" fill="#00ff00" stroke="#000" stroke-width="0.42"/>
<rect x="411.44" y="285.64" width="8.49" height="56.81" fill="#0000ff" stroke="#000" stroke-width="0.42"/>
<rect x="419.93" y="284.00" width="8.49" height="2.05" fill="#00ff00" stroke="#000" stroke-width="0.42"/>
<rect x="419.93" y="286.05" width="8.49" height="56.40" fill="#0000ff" stroke="#000" stroke-width="0.42"/>
<rect x="428.42" y="284.00" width="8.49" height="2.34" fill="#00ff00" stroke="#000" stroke-width="0.42"/>
<rect x="428.42" y="286.34" width="8.49" height="56.11" fill="#0000ff" stroke="#000" stroke-width="0.42"/>
<rect x="436.91" y="284.00" width="8.49" height="3.80" fill="#ff0000" stroke="#000" stroke-width="0.42"/>
<rect x="436.91" y="287.80" width="8.49" height="0.58" fill="#000000" stroke="#000" stroke-width="0.42"/>
<rect x="436.91" y="288.38" width="8.49" height="54.07" fill="#0000ff" stroke="#000" stroke-width="0.42"/>
<rect x="445.40" y="284.00" width="8.49" height="4.38" fill="#00ff00" stroke="#000" stroke-width="0.42"/>
<rect x="445.40" y="288.38" width="8.49" height="54.07" fill="#0000ff" stroke="#000" stroke-width="0.42"/>
<rect x="453.89" y="284.00" width="8.49" height="5.26" fill="#00ff00" stroke="#000" stroke-width="0.42"/>
<rect x="453.89" y="289.26" width="8.49" height="53.19" fill="#0000ff" stroke="#000" stroke-width="0.42"/>
<rect x="462.38" y="284.00" width="8.49" height="9.21" fill="#00ff00" stroke="#000" stroke-width="0.42"/>
<rect x="462.38" y="293.21" width="8.49" height="49.24" fill="#0000ff" stroke="#000" stroke-width="0.42"/>
<rect x="470.87" y="284.00" width="8.49" height="15.78" fill="#ff0000" stroke="#000" stroke-width="0.42"/>
<rect x="470.87" y="299.78" width="8.49" height="0.58" fill="#000000" stroke="#000" stroke-width="0.42"/>
<rect x="470.87" y="300.37" width="8.49" height="42.08" fill="#0000ff" stroke="#000" stroke-width="0.42"/>
<rect x="479.36" y="284.00" width="8.49" height="17.24" fill="#ff0000" stroke="#000" stroke-width="0.42"/>
<rect x="479.36" y="301.24" width="8.49" height="0.58" fill="#00ff00" stroke="#000" stroke-width="0.42"/>
<rect x="479.36" y="301.83" width="8.49" height="40.62" fill="#0000ff" stroke="#000" stroke-width="0.42"/>
<rect x="487.85" y="284.00" width="8.49" height="22.36" fill="#ff0000" stroke="#000" stroke-width="0.42"/>
<rect x="487.85" y="306.36" width="8.49" height="36.09" fill="#0000ff" stroke="#000" stroke-width="0.42"/>
<rect x="496.34" y="284.00" width="8.49" height="23.38" fill="#00ff00" stroke="#000" stroke-width="0.42"/>
<rect x="496.34" y="307.38" width="8.49" height="35.07" fill="#0000ff" stroke="#000" stroke-width="0.42"/>
<rect x="504.83" y="284.00" width="8.49" height="26.01" fill="#ff0000" stroke="#000" stroke-width="0.42"/>
<rect x="504.83" y="310.01" width="8.49" height="1.02" fill="#00ff00" stroke="#000" stroke-width="0.42"/>
<rect x="504.83" y="311.03" width="8.49" height="31.42" fill="#0000ff" stroke="#000" stroke-width="0.42"/>
<rect x="513.32" y="284.00" width="8.49" height="28.20" fill="#ff0000" stroke="#000" stroke-width="0.42"/>
<rect x="513.32" y="312.20" width="8.49" height="30.25" fill="#0000ff" stroke="#000" stroke-width="0.42"/>
<rect x="521.81" y="284.00" width="8.49" height="28.93" fill="#ff0000" stroke="#000" stroke-width="0.42"/>
<rect x="521.81" y="312.93" width="8.49" height="0.58" fill="#000000" stroke="#000" stroke-width="0.42"/>
<rect x="521.81" y="313.52" width="8.49" height="28.93" fill="#0000ff" stroke="#000" stroke-width="0.42"/>
<line x1="273.00" y1="284.10" x2="530.30" y2="284.10" stroke="#200" stroke-width="0.45"/>
<line x1="273.00" y1="342.70" x2="685.00" y2="342.70" stroke="#222" stroke-width="0.7"/>
<line x1="275.60" y1="282.00" x2="275.60" y2="342.45" stroke="#000" stroke-width="0.5"/>
<line x1="273.00" y1="284.15" x2="275.60" y2="284.15" stroke="#000" stroke-width="0.6"/>
<text x="271.10" y="285.01" font-size="5.2" text-anchor="end" textLength="7.7" lengthAdjust="spacingAndGlyphs" fill="#222" stroke="#222" stroke-width="0.18">1.00</text>
<line x1="273.00" y1="295.84" x2="275.60" y2="295.84" stroke="#000" stroke-width="0.6"/>
<text x="271.10" y="296.70" font-size="5.2" text-anchor="end" textLength="7.7" lengthAdjust="spacingAndGlyphs" fill="#222" stroke="#222" stroke-width="0.18">0.80</text>
<line x1="273.00" y1="307.53" x2="275.60" y2="307.53" stroke="#000" stroke-width="0.6"/>
<text x="271.10" y="308.39" font-size="5.2" text-anchor="end" textLength="7.7" lengthAdjust="spacingAndGlyphs" fill="#222" stroke="#222" stroke-width="0.18">0.60</text>
<line x1="273.00" y1="319.22" x2="275.60" y2="319.22" stroke="#000" stroke-width="0.6"/>
<text x="271.10" y="320.08" font-size="5.2" text-anchor="end" textLength="7.7" lengthAdjust="spacingAndGlyphs" fill="#222" stroke="#222" stroke-width="0.18">0.40</text>
<line x1="273.00" y1="330.91" x2="275.60" y2="330.91" stroke="#000" stroke-width="0.6"/>
<text x="271.10" y="331.77" font-size="5.2" text-anchor="end" textLength="7.7" lengthAdjust="spacingAndGlyphs" fill="#222" stroke="#222" stroke-width="0.18">0.20</text>
<line x1="273.00" y1="342.60" x2="275.60" y2="342.60" stroke="#000" stroke-width="0.6"/>
<text x="271.10" y="343.46" font-size="5.2" text-anchor="end" textLength="7.7" lengthAdjust="spacingAndGlyphs" fill="#222" stroke="#222" stroke-width="0.18">0.00</text>
<line x1="279.85" y1="342.95" x2="279.85" y2="345.05" stroke="#111" stroke-width="0.6"/>
<text x="279.85" y="350.06" font-size="5.2" text-anchor="middle" textLength="4.50" lengthAdjust="spacingAndGlyphs" fill="#222" stroke="#222" stroke-width="0.18">31</text>
<line x1="288.34" y1="342.95" x2="288.34" y2="345.85" stroke="#888" stroke-width="0.6"/>
<text x="288.34" y="355.16" font-size="5.2" text-anchor="middle" textLength="4.50" lengthAdjust="spacingAndGlyphs" fill="#222" stroke="#222" stroke-width="0.18">24</text>
<line x1="296.83" y1="342.95" x2="296.83" y2="345.05" stroke="#111" stroke-width="0.6"/>
<text x="296.83" y="350.06" font-size="5.2" text-anchor="middle" textLength="4.50" lengthAdjust="spacingAndGlyphs" fill="#222" stroke="#222" stroke-width="0.18">13</text>
<line x1="305.31" y1="342.95" x2="305.31" y2="345.85" stroke="#888" stroke-width="0.6"/>
<text x="305.31" y="355.16" font-size="5.2" text-anchor="middle" textLength="2.25" lengthAdjust="spacingAndGlyphs" fill="#222" stroke="#222" stroke-width="0.18">7</text>
<line x1="313.81" y1="342.95" x2="313.81" y2="345.05" stroke="#111" stroke-width="0.6"/>
<text x="313.81" y="350.06" font-size="5.2" text-anchor="middle" textLength="4.50" lengthAdjust="spacingAndGlyphs" fill="#222" stroke="#222" stroke-width="0.18">36</text>
<line x1="322.30" y1="342.95" x2="322.30" y2="345.85" stroke="#888" stroke-width="0.6"/>
<text x="322.30" y="355.16" font-size="5.2" text-anchor="middle" textLength="4.50" lengthAdjust="spacingAndGlyphs" fill="#222" stroke="#222" stroke-width="0.18">43</text>
<line x1="330.79" y1="342.95" x2="330.79" y2="345.05" stroke="#111" stroke-width="0.6"/>
<text x="330.79" y="350.06" font-size="5.2" text-anchor="middle" textLength="4.50" lengthAdjust="spacingAndGlyphs" fill="#222" stroke="#222" stroke-width="0.18">34</text>
<line x1="339.28" y1="342.95" x2="339.28" y2="345.85" stroke="#888" stroke-width="0.6"/>
<text x="339.28" y="355.16" font-size="5.2" text-anchor="middle" textLength="2.25" lengthAdjust="spacingAndGlyphs" fill="#222" stroke="#222" stroke-width="0.18">5</text>
<line x1="347.77" y1="342.95" x2="347.77" y2="345.05" stroke="#111" stroke-width="0.6"/>
<text x="347.77" y="350.06" font-size="5.2" text-anchor="middle" textLength="4.50" lengthAdjust="spacingAndGlyphs" fill="#222" stroke="#222" stroke-width="0.18">23</text>
<line x1="356.25" y1="342.95" x2="356.25" y2="345.85" stroke="#888" stroke-width="0.6"/>
<text x="356.25" y="355.16" font-size="5.2" text-anchor="middle" textLength="2.25" lengthAdjust="spacingAndGlyphs" fill="#222" stroke="#222" stroke-width="0.18">9</text>
<line x1="364.75" y1="342.95" x2="364.75" y2="345.05" stroke="#111" stroke-width="0.6"/>
<text x="364.75" y="350.06" font-size="5.2" text-anchor="middle" textLength="4.50" lengthAdjust="spacingAndGlyphs" fill="#222" stroke="#222" stroke-width="0.18">35</text>
<line x1="373.24" y1="342.95" x2="373.24" y2="345.85" stroke="#888" stroke-width="0.6"/>
<text x="373.24" y="355.16" font-size="5.2" text-anchor="middle" textLength="4.50" lengthAdjust="spacingAndGlyphs" fill="#222" stroke="#222" stroke-width="0.18">17</text>
<line x1="381.73" y1="342.95" x2="381.73" y2="345.05" stroke="#111" stroke-width="0.6"/>
<text x="381.73" y="350.06" font-size="5.2" text-anchor="middle" textLength="4.50" lengthAdjust="spacingAndGlyphs" fill="#222" stroke="#222" stroke-width="0.18">33</text>
<line x1="390.22" y1="342.95" x2="390.22" y2="345.85" stroke="#888" stroke-width="0.6"/>
<text x="390.22" y="355.16" font-size="5.2" text-anchor="middle" textLength="4.50" lengthAdjust="spacingAndGlyphs" fill="#222" stroke="#222" stroke-width="0.18">38</text>
<line x1="398.71" y1="342.95" x2="398.71" y2="345.05" stroke="#111" stroke-width="0.6"/>
<text x="398.71" y="350.06" font-size="5.2" text-anchor="middle" textLength="4.50" lengthAdjust="spacingAndGlyphs" fill="#222" stroke="#222" stroke-width="0.18">41</text>
<line x1="407.20" y1="342.95" x2="407.20" y2="345.85" stroke="#888" stroke-width="0.6"/>
<text x="407.20" y="355.16" font-size="5.2" text-anchor="middle" textLength="2.25" lengthAdjust="spacingAndGlyphs" fill="#222" stroke="#222" stroke-width="0.18">6</text>
<line x1="415.69" y1="342.95" x2="415.69" y2="345.05" stroke="#111" stroke-width="0.6"/>
<text x="415.69" y="350.06" font-size="5.2" text-anchor="middle" textLength="4.50" lengthAdjust="spacingAndGlyphs" fill="#222" stroke="#222" stroke-width="0.18">10</text>
<line x1="424.18" y1="342.95" x2="424.18" y2="345.85" stroke="#888" stroke-width="0.6"/>
<text x="424.18" y="355.16" font-size="5.2" text-anchor="middle" textLength="4.50" lengthAdjust="spacingAndGlyphs" fill="#222" stroke="#222" stroke-width="0.18">16</text>
<line x1="432.67" y1="342.95" x2="432.67" y2="345.05" stroke="#111" stroke-width="0.6"/>
<text x="432.67" y="350.06" font-size="5.2" text-anchor="middle" textLength="4.50" lengthAdjust="spacingAndGlyphs" fill="#222" stroke="#222" stroke-width="0.18">22</text>
<line x1="441.16" y1="342.95" x2="441.16" y2="345.85" stroke="#888" stroke-width="0.6"/>
<text x="441.16" y="355.16" font-size="5.2" text-anchor="middle" textLength="2.25" lengthAdjust="spacingAndGlyphs" fill="#222" stroke="#222" stroke-width="0.18">8</text>
<line x1="449.65" y1="342.95" x2="449.65" y2="345.05" stroke="#111" stroke-width="0.6"/>
<text x="449.65" y="350.06" font-size="5.2" text-anchor="middle" textLength="4.50" lengthAdjust="spacingAndGlyphs" fill="#222" stroke="#222" stroke-width="0.18">12</text>
<line x1="458.13" y1="342.95" x2="458.13" y2="345.85" stroke="#888" stroke-width="0.6"/>
<text x="458.13" y="355.16" font-size="5.2" text-anchor="middle" textLength="4.50" lengthAdjust="spacingAndGlyphs" fill="#222" stroke="#222" stroke-width="0.18">21</text>
<line x1="466.62" y1="342.95" x2="466.62" y2="345.05" stroke="#111" stroke-width="0.6"/>
<text x="466.62" y="350.06" font-size="5.2" text-anchor="middle" textLength="4.50" lengthAdjust="spacingAndGlyphs" fill="#222" stroke="#222" stroke-width="0.18">40</text>
<line x1="475.12" y1="342.95" x2="475.12" y2="345.85" stroke="#888" stroke-width="0.6"/>
<text x="475.12" y="355.16" font-size="5.2" text-anchor="middle" textLength="2.25" lengthAdjust="spacingAndGlyphs" fill="#222" stroke="#222" stroke-width="0.18">4</text>
<line x1="483.61" y1="342.95" x2="483.61" y2="345.05" stroke="#111" stroke-width="0.6"/>
<text x="483.61" y="350.06" font-size="5.2" text-anchor="middle" textLength="4.50" lengthAdjust="spacingAndGlyphs" fill="#222" stroke="#222" stroke-width="0.18">44</text>
<line x1="492.10" y1="342.95" x2="492.10" y2="345.85" stroke="#888" stroke-width="0.6"/>
<text x="492.10" y="355.16" font-size="5.2" text-anchor="middle" textLength="4.50" lengthAdjust="spacingAndGlyphs" fill="#222" stroke="#222" stroke-width="0.18">32</text>
<line x1="500.59" y1="342.95" x2="500.59" y2="345.05" stroke="#111" stroke-width="0.6"/>
<text x="500.59" y="350.06" font-size="5.2" text-anchor="middle" textLength="4.50" lengthAdjust="spacingAndGlyphs" fill="#222" stroke="#222" stroke-width="0.18">20</text>
<line x1="509.08" y1="342.95" x2="509.08" y2="345.85" stroke="#888" stroke-width="0.6"/>
<text x="509.08" y="355.16" font-size="5.2" text-anchor="middle" textLength="4.50" lengthAdjust="spacingAndGlyphs" fill="#222" stroke="#222" stroke-width="0.18">18</text>
<line x1="517.57" y1="342.95" x2="517.57" y2="345.05" stroke="#111" stroke-width="0.6"/>
<text x="517.57" y="350.06" font-size="5.2" text-anchor="middle" textLength="2.25" lengthAdjust="spacingAndGlyphs" fill="#222" stroke="#222" stroke-width="0.18">1</text>
<line x1="526.06" y1="342.95" x2="526.06" y2="345.85" stroke="#888" stroke-width="0.6"/>
<text x="526.06" y="355.16" font-size="5.2" text-anchor="middle" textLength="4.50" lengthAdjust="spacingAndGlyphs" fill="#222" stroke="#222" stroke-width="0.18">27</text>
</g>
<g stroke-opacity="0.72">
<rect x="275.60" y="388.60" width="8.41" height="64.50" fill="#ff0000" stroke="#000" stroke-width="0.42"/>
<rect x="284.01" y="388.60" width="8.41" height="64.50" fill="#ff0000" stroke="#000" stroke-width="0.42"/>
<rect x="292.42" y="388.60" width="8.41" height="64.50" fill="#ff0000" stroke="#000" stroke-width="0.42"/>
<rect x="300.83" y="388.60" width="8.41" height="64.50" fill="#ff0000" stroke="#000" stroke-width="0.42"/>
<rect x="309.24" y="388.60" width="8.41" height="64.50" fill="#ff0000" stroke="#000" stroke-width="0.42"/>
<rect x="317.65" y="388.60" width="8.41" height="64.50" fill="#ff0000" stroke="#000" stroke-width="0.42"/>
<rect x="326.06" y="388.60" width="8.41" height="64.50" fill="#ff0000" stroke="#000" stroke-width="0.42"/>
<rect x="334.47" y="388.60" width="8.41" height="64.50" fill="#ff0000" stroke="#000" stroke-width="0.42"/>
<rect x="342.88" y="388.60" width="8.41" height="64.50" fill="#ff0000" stroke="#000" stroke-width="0.42"/>
<rect x="351.29" y="388.60" width="8.41" height="64.50" fill="#ff0000" stroke="#000" stroke-width="0.42"/>
<rect x="359.70" y="388.60" width="8.41" height="64.50" fill="#ff0000" stroke="#000" stroke-width="0.42"/>
<rect x="368.11" y="388.60" width="8.41" height="64.50" fill="#ff0000" stroke="#000" stroke-width="0.42"/>
<rect x="376.52" y="388.60" width="8.41" height="64.50" fill="#ff0000" stroke="#000" stroke-width="0.42"/>
<rect x="384.93" y="388.60" width="8.41" height="64.50" fill="#ff0000" stroke="#000" stroke-width="0.42"/>
<rect x="393.34" y="388.60" width="8.41" height="64.50" fill="#ff0000" stroke="#000" stroke-width="0.42"/>
<rect x="401.75" y="388.60" width="8.41" height="64.50" fill="#ff0000" stroke="#000" stroke-width="0.42"/>
<rect x="410.16" y="388.60" width="8.41" height="64.50" fill="#ff0000" stroke="#000" stroke-width="0.42"/>
<rect x="418.57" y="388.60" width="8.41" height="64.50" fill="#ff0000" stroke="#000" stroke-width="0.42"/>
<rect x="426.98" y="388.60" width="8.41" height="64.50" fill="#ff0000" stroke="#000" stroke-width="0.42"/>
<rect x="435.39" y="388.60" width="8.41" height="64.50" fill="#ff0000" stroke="#000" stroke-width="0.42"/>
<rect x="443.80" y="388.60" width="8.41" height="64.50" fill="#ff0000" stroke="#000" stroke-width="0.42"/>
<rect x="452.21" y="388.60" width="8.41" height="64.50" fill="#ff0000" stroke="#000" stroke-width="0.42"/>
<rect x="460.62" y="388.60" width="8.41" height="64.50" fill="#ff0000" stroke="#000" stroke-width="0.42"/>
<rect x="469.03" y="388.60" width="8.41" height="64.50" fill="#ff0000" stroke="#000" stroke-width="0.42"/>
<rect x="477.44" y="388.60" width="8.41" height="63.98" fill="#ff0000" stroke="#000" stroke-width="0.42"/>
<rect x="477.44" y="452.58" width="8.41" height="0.52" fill="#000000" stroke="#000" stroke-width="0.42"/>
<rect x="485.85" y="388.60" width="8.41" height="63.98" fill="#ff0000" stroke="#000" stroke-width="0.42"/>
<rect x="485.85" y="452.58" width="8.41" height="0.52" fill="#000000" stroke="#000" stroke-width="0.42"/>
<rect x="494.26" y="388.60" width="8.41" height="63.98" fill="#ff0000" stroke="#000" stroke-width="0.42"/>
<rect x="494.26" y="452.58" width="8.41" height="0.52" fill="#000000" stroke="#000" stroke-width="0.42"/>
<rect x="502.67" y="388.60" width="8.41" height="63.98" fill="#ff0000" stroke="#000" stroke-width="0.42"/>
<rect x="502.67" y="452.58" width="8.41" height="0.52" fill="#000000" stroke="#000" stroke-width="0.42"/>
<rect x="511.08" y="388.60" width="8.41" height="63.98" fill="#ff0000" stroke="#000" stroke-width="0.42"/>
<rect x="511.08" y="452.58" width="8.41" height="0.52" fill="#000000" stroke="#000" stroke-width="0.42"/>
<rect x="519.49" y="388.60" width="8.41" height="63.98" fill="#ff0000" stroke="#000" stroke-width="0.42"/>
<rect x="519.49" y="452.58" width="8.41" height="0.52" fill="#000000" stroke="#000" stroke-width="0.42"/>
<rect x="527.90" y="388.60" width="8.41" height="63.73" fill="#ff0000" stroke="#000" stroke-width="0.42"/>
<rect x="527.90" y="452.33" width="8.41" height="0.77" fill="#00ff00" stroke="#000" stroke-width="0.42"/>
<rect x="536.31" y="388.60" width="8.41" height="61.79" fill="#ff0000" stroke="#000" stroke-width="0.42"/>
<rect x="536.31" y="450.39" width="8.41" height="2.71" fill="#00ff00" stroke="#000" stroke-width="0.42"/>
<rect x="544.72" y="388.60" width="8.41" height="60.63" fill="#ff0000" stroke="#000" stroke-width="0.42"/>
<rect x="544.72" y="449.23" width="8.41" height="3.87" fill="#00ff00" stroke="#000" stroke-width="0.42"/>
<rect x="553.13" y="388.60" width="8.41" height="60.63" fill="#ff0000" stroke="#000" stroke-width="0.42"/>
<rect x="553.13" y="449.23" width="8.41" height="3.87" fill="#00ff00" stroke="#000" stroke-width="0.42"/>
<rect x="561.54" y="388.60" width="8.41" height="60.63" fill="#ff0000" stroke="#000" stroke-width="0.42"/>
<rect x="561.54" y="449.23" width="8.41" height="3.87" fill="#00ff00" stroke="#000" stroke-width="0.42"/>
<rect x="569.95" y="388.60" width="8.41" height="58.82" fill="#ff0000" stroke="#000" stroke-width="0.42"/>
<rect x="569.95" y="447.42" width="8.41" height="5.68" fill="#00ff00" stroke="#000" stroke-width="0.42"/>
<rect x="578.36" y="388.60" width="8.41" height="56.57" fill="#ff0000" stroke="#000" stroke-width="0.42"/>
<rect x="578.36" y="445.17" width="8.41" height="7.93" fill="#00ff00" stroke="#000" stroke-width="0.42"/>
<rect x="586.77" y="388.60" width="8.41" height="56.12" fill="#ff0000" stroke="#000" stroke-width="0.42"/>
<rect x="586.77" y="444.72" width="8.41" height="8.38" fill="#00ff00" stroke="#000" stroke-width="0.42"/>
<rect x="595.18" y="388.60" width="8.41" height="54.50" fill="#ff0000" stroke="#000" stroke-width="0.42"/>
<rect x="595.18" y="443.10" width="8.41" height="10.00" fill="#00ff00" stroke="#000" stroke-width="0.42"/>
<rect x="603.59" y="388.60" width="8.41" height="52.89" fill="#ff0000" stroke="#000" stroke-width="0.42"/>
<rect x="603.59" y="441.49" width="8.41" height="11.61" fill="#00ff00" stroke="#000" stroke-width="0.42"/>
<rect x="612.00" y="388.60" width="8.41" height="51.99" fill="#ff0000" stroke="#000" stroke-width="0.42"/>
<rect x="612.00" y="440.59" width="8.41" height="12.51" fill="#00ff00" stroke="#000" stroke-width="0.42"/>
<rect x="620.41" y="388.60" width="8.41" height="50.18" fill="#ff0000" stroke="#000" stroke-width="0.42"/>
<rect x="620.41" y="438.78" width="8.41" height="14.32" fill="#00ff00" stroke="#000" stroke-width="0.42"/>
<rect x="628.82" y="388.60" width="8.41" height="46.31" fill="#ff0000" stroke="#000" stroke-width="0.42"/>
<rect x="628.82" y="434.91" width="8.41" height="18.19" fill="#00ff00" stroke="#000" stroke-width="0.42"/>
<rect x="637.23" y="388.60" width="8.41" height="42.70" fill="#ff0000" stroke="#000" stroke-width="0.42"/>
<rect x="637.23" y="431.30" width="8.41" height="21.80" fill="#00ff00" stroke="#000" stroke-width="0.42"/>
<rect x="645.64" y="388.60" width="8.41" height="64.50" fill="#00ff00" stroke="#000" stroke-width="0.42"/>
<rect x="654.05" y="388.60" width="8.41" height="64.50" fill="#00ff00" stroke="#000" stroke-width="0.42"/>
<rect x="662.46" y="388.60" width="8.41" height="64.50" fill="#00ff00" stroke="#000" stroke-width="0.42"/>
<rect x="670.87" y="388.60" width="8.41" height="64.50" fill="#00ff00" stroke="#000" stroke-width="0.42"/>
<rect x="679.28" y="388.60" width="8.41" height="64.50" fill="#00ff00" stroke="#000" stroke-width="0.42"/>
<line x1="273.00" y1="388.70" x2="685.00" y2="388.70" stroke="#200" stroke-width="0.6"/>
<line x1="273.00" y1="453.35" x2="685.00" y2="453.35" stroke="#222" stroke-width="0.7"/>
<line x1="275.60" y1="386.60" x2="275.60" y2="453.10" stroke="#000" stroke-width="0.5"/>
<line x1="273.00" y1="388.75" x2="275.60" y2="388.75" stroke="#000" stroke-width="0.6"/>
<text x="271.10" y="389.61" font-size="5.2" text-anchor="end" textLength="7.7" lengthAdjust="spacingAndGlyphs" fill="#222" stroke="#222" stroke-width="0.18">1.00</text>
<line x1="273.00" y1="401.65" x2="275.60" y2="401.65" stroke="#000" stroke-width="0.6"/>
<text x="271.10" y="402.51" font-size="5.2" text-anchor="end" textLength="7.7" lengthAdjust="spacingAndGlyphs" fill="#222" stroke="#222" stroke-width="0.18">0.80</text>
<line x1="273.00" y1="414.55" x2="275.60" y2="414.55" stroke="#000" stroke-width="0.6"/>
<text x="271.10" y="415.41" font-size="5.2" text-anchor="end" textLength="7.7" lengthAdjust="spacingAndGlyphs" fill="#222" stroke="#222" stroke-width="0.18">0.60</text>
<line x1="273.00" y1="427.45" x2="275.60" y2="427.45" stroke="#000" stroke-width="0.6"/>
<text x="271.10" y="428.31" font-size="5.2" text-anchor="end" textLength="7.7" lengthAdjust="spacingAndGlyphs" fill="#222" stroke="#222" stroke-width="0.18">0.40</text>
<line x1="273.00" y1="440.35" x2="275.60" y2="440.35" stroke="#000" stroke-width="0.6"/>
<text x="271.10" y="441.21" font-size="5.2" text-anchor="end" textLength="7.7" lengthAdjust="spacingAndGlyphs" fill="#222" stroke="#222" stroke-width="0.18">0.20</text>
<line x1="273.00" y1="453.25" x2="275.60" y2="453.25" stroke="#000" stroke-width="0.6"/>
<text x="271.10" y="454.11" font-size="5.2" text-anchor="end" textLength="7.7" lengthAdjust="spacingAndGlyphs" fill="#222" stroke="#222" stroke-width="0.18">0.00</text>
<line x1="279.81" y1="453.60" x2="279.81" y2="455.70" stroke="#111" stroke-width="0.6"/>
<text x="279.81" y="460.76" font-size="5.2" text-anchor="middle" textLength="2.25" lengthAdjust="spacingAndGlyphs" fill="#222" stroke="#222" stroke-width="0.18">8</text>
<line x1="288.22" y1="453.60" x2="288.22" y2="456.50" stroke="#888" stroke-width="0.6"/>
<text x="288.22" y="466.26" font-size="5.2" text-anchor="middle" textLength="4.50" lengthAdjust="spacingAndGlyphs" fill="#222" stroke="#222" stroke-width="0.18">36</text>
<line x1="296.62" y1="453.60" x2="296.62" y2="455.70" stroke="#111" stroke-width="0.6"/>
<text x="296.62" y="460.76" font-size="5.2" text-anchor="middle" textLength="4.50" lengthAdjust="spacingAndGlyphs" fill="#222" stroke="#222" stroke-width="0.18">28</text>
<line x1="305.04" y1="453.60" x2="305.04" y2="456.50" stroke="#888" stroke-width="0.6"/>
<text x="305.04" y="466.26" font-size="5.2" text-anchor="middle" textLength="4.50" lengthAdjust="spacingAndGlyphs" fill="#222" stroke="#222" stroke-width="0.18">25</text>
<line x1="313.45" y1="453.60" x2="313.45" y2="455.70" stroke="#111" stroke-width="0.6"/>
<text x="313.45" y="460.76" font-size="5.2" text-anchor="middle" textLength="4.50" lengthAdjust="spacingAndGlyphs" fill="#222" stroke="#222" stroke-width="0.18">33</text>
<line x1="321.86" y1="453.60" x2="321.86" y2="456.50" stroke="#888" stroke-width="0.6"/>
<text x="321.86" y="466.26" font-size="5.2" text-anchor="middle" textLength="4.50" lengthAdjust="spacingAndGlyphs" fill="#222" stroke="#222" stroke-width="0.18">29</text>
<line x1="330.27" y1="453.60" x2="330.27" y2="455.70" stroke="#111" stroke-width="0.6"/>
<text x="330.27" y="460.76" font-size="5.2" text-anchor="middle" textLength="4.50" lengthAdjust="spacingAndGlyphs" fill="#222" stroke="#222" stroke-width="0.18">30</text>
<line x1="338.68" y1="453.60" x2="338.68" y2="456.50" stroke="#888" stroke-width="0.6"/>
<text x="338.68" y="466.26" font-size="5.2" text-anchor="middle" textLength="4.50" lengthAdjust="spacingAndGlyphs" fill="#222" stroke="#222" stroke-width="0.18">43</text>
<line x1="347.09" y1="453.60" x2="347.09" y2="455.70" stroke="#111" stroke-width="0.6"/>
<text x="347.09" y="460.76" font-size="5.2" text-anchor="middle" textLength="2.25" lengthAdjust="spacingAndGlyphs" fill="#222" stroke="#222" stroke-width="0.18">3</text>
<line x1="355.50" y1="453.60" x2="355.50" y2="456.50" stroke="#888" stroke-width="0.6"/>
<text x="355.50" y="466.26" font-size="5.2" text-anchor="middle" textLength="4.50" lengthAdjust="spacingAndGlyphs" fill="#222" stroke="#222" stroke-width="0.18">32</text>
<line x1="363.91" y1="453.60" x2="363.91" y2="455.70" stroke="#111" stroke-width="0.6"/>
<text x="363.91" y="460.76" font-size="5.2" text-anchor="middle" textLength="4.50" lengthAdjust="spacingAndGlyphs" fill="#222" stroke="#222" stroke-width="0.18">34</text>
<line x1="372.32" y1="453.60" x2="372.32" y2="456.50" stroke="#888" stroke-width="0.6"/>
<text x="372.32" y="466.26" font-size="5.2" text-anchor="middle" textLength="4.50" lengthAdjust="spacingAndGlyphs" fill="#222" stroke="#222" stroke-width="0.18">35</text>
<line x1="380.73" y1="453.60" x2="380.73" y2="455.70" stroke="#111" stroke-width="0.6"/>
<text x="380.73" y="460.76" font-size="5.2" text-anchor="middle" textLength="4.50" lengthAdjust="spacingAndGlyphs" fill="#222" stroke="#222" stroke-width="0.18">37</text>
<line x1="389.13" y1="453.60" x2="389.13" y2="456.50" stroke="#888" stroke-width="0.6"/>
<text x="389.13" y="466.26" font-size="5.2" text-anchor="middle" textLength="4.50" lengthAdjust="spacingAndGlyphs" fill="#222" stroke="#222" stroke-width="0.18">39</text>
<line x1="397.55" y1="453.60" x2="397.55" y2="455.70" stroke="#111" stroke-width="0.6"/>
<text x="397.55" y="460.76" font-size="5.2" text-anchor="middle" textLength="4.50" lengthAdjust="spacingAndGlyphs" fill="#222" stroke="#222" stroke-width="0.18">42</text>
<line x1="405.96" y1="453.60" x2="405.96" y2="456.50" stroke="#888" stroke-width="0.6"/>
<text x="405.96" y="466.26" font-size="5.2" text-anchor="middle" textLength="2.25" lengthAdjust="spacingAndGlyphs" fill="#222" stroke="#222" stroke-width="0.18">5</text>
<line x1="414.37" y1="453.60" x2="414.37" y2="455.70" stroke="#111" stroke-width="0.6"/>
<text x="414.37" y="460.76" font-size="5.2" text-anchor="middle" textLength="4.50" lengthAdjust="spacingAndGlyphs" fill="#222" stroke="#222" stroke-width="0.18">26</text>
<line x1="422.78" y1="453.60" x2="422.78" y2="456.50" stroke="#888" stroke-width="0.6"/>
<text x="422.78" y="466.26" font-size="5.2" text-anchor="middle" textLength="2.25" lengthAdjust="spacingAndGlyphs" fill="#222" stroke="#222" stroke-width="0.18">4</text>
<line x1="431.19" y1="453.60" x2="431.19" y2="455.70" stroke="#111" stroke-width="0.6"/>
<text x="431.19" y="460.76" font-size="5.2" text-anchor="middle" textLength="4.50" lengthAdjust="spacingAndGlyphs" fill="#222" stroke="#222" stroke-width="0.18">17</text>
<line x1="439.60" y1="453.60" x2="439.60" y2="456.50" stroke="#888" stroke-width="0.6"/>
<text x="439.60" y="466.26" font-size="5.2" text-anchor="middle" textLength="4.50" lengthAdjust="spacingAndGlyphs" fill="#222" stroke="#222" stroke-width="0.18">23</text>
<line x1="448.00" y1="453.60" x2="448.00" y2="455.70" stroke="#111" stroke-width="0.6"/>
<text x="448.00" y="460.76" font-size="5.2" text-anchor="middle" textLength="4.50" lengthAdjust="spacingAndGlyphs" fill="#222" stroke="#222" stroke-width="0.18">41</text>
<line x1="456.42" y1="453.60" x2="456.42" y2="456.50" stroke="#888" stroke-width="0.6"/>
<text x="456.42" y="466.26" font-size="5.2" text-anchor="middle" textLength="4.50" lengthAdjust="spacingAndGlyphs" fill="#222" stroke="#222" stroke-width="0.18">38</text>
<line x1="464.83" y1="453.60" x2="464.83" y2="455.70" stroke="#111" stroke-width="0.6"/>
<text x="464.83" y="460.76" font-size="5.2" text-anchor="middle" textLength="4.50" lengthAdjust="spacingAndGlyphs" fill="#222" stroke="#222" stroke-width="0.18">40</text>
<line x1="473.24" y1="453.60" x2="473.24" y2="456.50" stroke="#888" stroke-width="0.6"/>
<text x="473.24" y="466.26" font-size="5.2" text-anchor="middle" textLength="4.50" lengthAdjust="spacingAndGlyphs" fill="#222" stroke="#222" stroke-width="0.18">31</text>
<line x1="481.65" y1="453.60" x2="481.65" y2="455.70" stroke="#111" stroke-width="0.6"/>
<text x="481.65" y="460.76" font-size="5.2" text-anchor="middle" textLength="4.50" lengthAdjust="spacingAndGlyphs" fill="#222" stroke="#222" stroke-width="0.18">27</text>
<line x1="490.06" y1="453.60" x2="490.06" y2="456.50" stroke="#888" stroke-width="0.6"/>
<text x="490.06" y="466.26" font-size="5.2" text-anchor="middle" textLength="4.50" lengthAdjust="spacingAndGlyphs" fill="#222" stroke="#222" stroke-width="0.18">18</text>
<line x1="498.47" y1="453.60" x2="498.47" y2="455.70" stroke="#111" stroke-width="0.6"/>
<text x="498.47" y="460.76" font-size="5.2" text-anchor="middle" textLength="4.50" lengthAdjust="spacingAndGlyphs" fill="#222" stroke="#222" stroke-width="0.18">22</text>
<line x1="506.88" y1="453.60" x2="506.88" y2="456.50" stroke="#888" stroke-width="0.6"/>
<text x="506.88" y="466.26" font-size="5.2" text-anchor="middle" textLength="4.50" lengthAdjust="spacingAndGlyphs" fill="#222" stroke="#222" stroke-width="0.18">12</text>
<line x1="515.29" y1="453.60" x2="515.29" y2="455.70" stroke="#111" stroke-width="0.6"/>
<text x="515.29" y="460.76" font-size="5.2" text-anchor="middle" textLength="4.50" lengthAdjust="spacingAndGlyphs" fill="#222" stroke="#222" stroke-width="0.18">24</text>
<line x1="523.70" y1="453.60" x2="523.70" y2="456.50" stroke="#888" stroke-width="0.6"/>
<text x="523.70" y="466.26" font-size="5.2" text-anchor="middle" textLength="4.50" lengthAdjust="spacingAndGlyphs" fill="#222" stroke="#222" stroke-width="0.18">44</text>
<line x1="532.11" y1="453.60" x2="532.11" y2="455.70" stroke="#111" stroke-width="0.6"/>
<text x="532.11" y="460.76" font-size="5.2" text-anchor="middle" textLength="4.50" lengthAdjust="spacingAndGlyphs" fill="#222" stroke="#222" stroke-width="0.18">20</text>
<line x1="540.52" y1="453.60" x2="540.52" y2="456.50" stroke="#888" stroke-width="0.6"/>
<text x="540.52" y="466.26" font-size="5.2" text-anchor="middle" textLength="4.50" lengthAdjust="spacingAndGlyphs" fill="#222" stroke="#222" stroke-width="0.18">19</text>
<line x1="548.92" y1="453.60" x2="548.92" y2="455.70" stroke="#111" stroke-width="0.6"/>
<text x="548.92" y="460.76" font-size="5.2" text-anchor="middle" textLength="4.50" lengthAdjust="spacingAndGlyphs" fill="#222" stroke="#222" stroke-width="0.18">21</text>
<line x1="557.34" y1="453.60" x2="557.34" y2="456.50" stroke="#888" stroke-width="0.6"/>
<text x="557.34" y="466.26" font-size="5.2" text-anchor="middle" textLength="4.50" lengthAdjust="spacingAndGlyphs" fill="#222" stroke="#222" stroke-width="0.18">14</text>
<line x1="565.75" y1="453.60" x2="565.75" y2="455.70" stroke="#111" stroke-width="0.6"/>
<text x="565.75" y="460.76" font-size="5.2" text-anchor="middle" textLength="2.25" lengthAdjust="spacingAndGlyphs" fill="#222" stroke="#222" stroke-width="0.18">2</text>
<line x1="574.15" y1="453.60" x2="574.15" y2="456.50" stroke="#888" stroke-width="0.6"/>
<text x="574.15" y="466.26" font-size="5.2" text-anchor="middle" textLength="4.50" lengthAdjust="spacingAndGlyphs" fill="#222" stroke="#222" stroke-width="0.18">11</text>
<line x1="582.57" y1="453.60" x2="582.57" y2="455.70" stroke="#111" stroke-width="0.6"/>
<text x="582.57" y="460.76" font-size="5.2" text-anchor="middle" textLength="4.50" lengthAdjust="spacingAndGlyphs" fill="#222" stroke="#222" stroke-width="0.18">13</text>
<line x1="590.98" y1="453.60" x2="590.98" y2="456.50" stroke="#888" stroke-width="0.6"/>
<text x="590.98" y="466.26" font-size="5.2" text-anchor="middle" textLength="2.25" lengthAdjust="spacingAndGlyphs" fill="#222" stroke="#222" stroke-width="0.18">7</text>
<line x1="599.38" y1="453.60" x2="599.38" y2="455.70" stroke="#111" stroke-width="0.6"/>
<text x="599.38" y="460.76" font-size="5.2" text-anchor="middle" textLength="4.50" lengthAdjust="spacingAndGlyphs" fill="#222" stroke="#222" stroke-width="0.18">16</text>
<line x1="607.80" y1="453.60" x2="607.80" y2="456.50" stroke="#888" stroke-width="0.6"/>
<text x="607.80" y="466.26" font-size="5.2" text-anchor="middle" textLength="2.25" lengthAdjust="spacingAndGlyphs" fill="#222" stroke="#222" stroke-width="0.18">1</text>
<line x1="616.21" y1="453.60" x2="616.21" y2="455.70" stroke="#111" stroke-width="0.6"/>
<text x="616.21" y="460.76" font-size="5.2" text-anchor="middle" textLength="4.50" lengthAdjust="spacingAndGlyphs" fill="#222" stroke="#222" stroke-width="0.18">15</text>
<line x1="624.62" y1="453.60" x2="624.62" y2="456.50" stroke="#888" stroke-width="0.6"/>
<text x="624.62" y="466.26" font-size="5.2" text-anchor="middle" textLength="2.25" lengthAdjust="spacingAndGlyphs" fill="#222" stroke="#222" stroke-width="0.18">6</text>
<line x1="633.03" y1="453.60" x2="633.03" y2="455.70" stroke="#111" stroke-width="0.6"/>
<text x="633.03" y="460.76" font-size="5.2" text-anchor="middle" textLength="4.50" lengthAdjust="spacingAndGlyphs" fill="#222" stroke="#222" stroke-width="0.18">10</text>
<line x1="641.43" y1="453.60" x2="641.43" y2="456.50" stroke="#888" stroke-width="0.6"/>
<text x="641.43" y="466.26" font-size="5.2" text-anchor="middle" textLength="2.25" lengthAdjust="spacingAndGlyphs" fill="#222" stroke="#222" stroke-width="0.18">9</text>
<line x1="649.85" y1="453.60" x2="649.85" y2="455.70" stroke="#111" stroke-width="0.6"/>
<text x="649.85" y="460.76" font-size="5.2" text-anchor="middle" textLength="4.50" lengthAdjust="spacingAndGlyphs" fill="#222" stroke="#222" stroke-width="0.18">73</text>
<line x1="658.26" y1="453.60" x2="658.26" y2="456.50" stroke="#888" stroke-width="0.6"/>
<text x="658.26" y="466.26" font-size="5.2" text-anchor="middle" textLength="4.50" lengthAdjust="spacingAndGlyphs" fill="#222" stroke="#222" stroke-width="0.18">75</text>
<line x1="666.66" y1="453.60" x2="666.66" y2="455.70" stroke="#111" stroke-width="0.6"/>
<text x="666.66" y="460.76" font-size="5.2" text-anchor="middle" textLength="4.50" lengthAdjust="spacingAndGlyphs" fill="#222" stroke="#222" stroke-width="0.18">77</text>
<line x1="675.08" y1="453.60" x2="675.08" y2="456.50" stroke="#888" stroke-width="0.6"/>
<text x="675.08" y="466.26" font-size="5.2" text-anchor="middle" textLength="4.50" lengthAdjust="spacingAndGlyphs" fill="#222" stroke="#222" stroke-width="0.18">48</text>
<line x1="683.49" y1="453.60" x2="683.49" y2="455.70" stroke="#111" stroke-width="0.6"/>
<text x="683.49" y="460.76" font-size="5.2" text-anchor="middle" textLength="4.50" lengthAdjust="spacingAndGlyphs" fill="#222" stroke="#222" stroke-width="0.18">50</text>
</g>
<g stroke-opacity="0.72">
<rect x="275.60" y="480.60" width="8.41" height="0.91" fill="#000000" stroke="#000" stroke-width="0.42"/>
<rect x="275.60" y="481.51" width="8.41" height="63.74" fill="#00ff00" stroke="#000" stroke-width="0.42"/>
<rect x="284.01" y="480.60" width="8.41" height="0.91" fill="#000000" stroke="#000" stroke-width="0.42"/>
<rect x="284.01" y="481.51" width="8.41" height="63.74" fill="#00ff00" stroke="#000" stroke-width="0.42"/>
<rect x="292.42" y="480.60" width="8.41" height="0.91" fill="#000000" stroke="#000" stroke-width="0.42"/>
<rect x="292.42" y="481.51" width="8.41" height="63.74" fill="#00ff00" stroke="#000" stroke-width="0.42"/>
<rect x="300.83" y="480.60" width="8.41" height="0.91" fill="#000000" stroke="#000" stroke-width="0.42"/>
<rect x="300.83" y="481.51" width="8.41" height="63.74" fill="#00ff00" stroke="#000" stroke-width="0.42"/>
<rect x="309.24" y="480.60" width="8.41" height="0.91" fill="#000000" stroke="#000" stroke-width="0.42"/>
<rect x="309.24" y="481.51" width="8.41" height="63.74" fill="#00ff00" stroke="#000" stroke-width="0.42"/>
<rect x="317.65" y="480.60" width="8.41" height="0.91" fill="#000000" stroke="#000" stroke-width="0.42"/>
<rect x="317.65" y="481.51" width="8.41" height="63.74" fill="#00ff00" stroke="#000" stroke-width="0.42"/>
<rect x="326.06" y="480.60" width="8.41" height="0.91" fill="#000000" stroke="#000" stroke-width="0.42"/>
<rect x="326.06" y="481.51" width="8.41" height="63.74" fill="#00ff00" stroke="#000" stroke-width="0.42"/>
<rect x="334.47" y="480.60" width="8.41" height="0.91" fill="#000000" stroke="#000" stroke-width="0.42"/>
<rect x="334.47" y="481.51" width="8.41" height="63.74" fill="#00ff00" stroke="#000" stroke-width="0.42"/>
<rect x="342.88" y="480.60" width="8.41" height="0.91" fill="#000000" stroke="#000" stroke-width="0.42"/>
<rect x="342.88" y="481.51" width="8.41" height="63.74" fill="#00ff00" stroke="#000" stroke-width="0.42"/>
<rect x="351.29" y="480.60" width="8.41" height="0.91" fill="#000000" stroke="#000" stroke-width="0.42"/>
<rect x="351.29" y="481.51" width="8.41" height="63.74" fill="#00ff00" stroke="#000" stroke-width="0.42"/>
<rect x="359.70" y="480.60" width="8.41" height="0.91" fill="#000000" stroke="#000" stroke-width="0.42"/>
<rect x="359.70" y="481.51" width="8.41" height="63.74" fill="#00ff00" stroke="#000" stroke-width="0.42"/>
<rect x="368.11" y="480.60" width="8.41" height="0.91" fill="#000000" stroke="#000" stroke-width="0.42"/>
<rect x="368.11" y="481.51" width="8.41" height="63.74" fill="#00ff00" stroke="#000" stroke-width="0.42"/>
<rect x="376.52" y="480.60" width="8.41" height="0.91" fill="#000000" stroke="#000" stroke-width="0.42"/>
<rect x="376.52" y="481.51" width="8.41" height="63.74" fill="#00ff00" stroke="#000" stroke-width="0.42"/>
<rect x="384.93" y="480.60" width="8.41" height="0.91" fill="#000000" stroke="#000" stroke-width="0.42"/>
<rect x="384.93" y="481.51" width="8.41" height="63.74" fill="#00ff00" stroke="#000" stroke-width="0.42"/>
<rect x="393.34" y="480.60" width="8.41" height="0.91" fill="#000000" stroke="#000" stroke-width="0.42"/>
<rect x="393.34" y="481.51" width="8.41" height="63.74" fill="#00ff00" stroke="#000" stroke-width="0.42"/>
<rect x="401.75" y="480.60" width="8.41" height="0.91" fill="#000000" stroke="#000" stroke-width="0.42"/>
<rect x="401.75" y="481.51" width="8.41" height="63.74" fill="#00ff00" stroke="#000" stroke-width="0.42"/>
<rect x="410.16" y="480.60" width="8.41" height="0.91" fill="#000000" stroke="#000" stroke-width="0.42"/>
<rect x="410.16" y="481.51" width="8.41" height="63.74" fill="#00ff00" stroke="#000" stroke-width="0.42"/>
<rect x="418.57" y="480.60" width="8.41" height="1.16" fill="#ff0000" stroke="#000" stroke-width="0.42"/>
<rect x="418.57" y="481.76" width="8.41" height="63.49" fill="#00ff00" stroke="#000" stroke-width="0.42"/>
<rect x="426.98" y="480.60" width="8.41" height="1.16" fill="#ff0000" stroke="#000" stroke-width="0.42"/>
<rect x="426.98" y="481.76" width="8.41" height="63.49" fill="#00ff00" stroke="#000" stroke-width="0.42"/>
<rect x="435.39" y="480.60" width="8.41" height="1.16" fill="#ff0000" stroke="#000" stroke-width="0.42"/>
<rect x="435.39" y="481.76" width="8.41" height="63.49" fill="#00ff00" stroke="#000" stroke-width="0.42"/>
<rect x="443.80" y="480.60" width="8.41" height="1.42" fill="#ff0000" stroke="#000" stroke-width="0.42"/>
<rect x="443.80" y="482.02" width="8.41" height="63.23" fill="#00ff00" stroke="#000" stroke-width="0.42"/>
<rect x="452.21" y="480.60" width="8.41" height="1.42" fill="#ff0000" stroke="#000" stroke-width="0.42"/>
<rect x="452.21" y="482.02" width="8.41" height="63.23" fill="#00ff00" stroke="#000" stroke-width="0.42"/>
<rect x="460.62" y="480.60" width="8.41" height="1.81" fill="#ff0000" stroke="#000" stroke-width="0.42"/>
<rect x="460.62" y="482.41" width="8.41" height="62.84" fill="#00ff00" stroke="#000" stroke-width="0.42"/>
<rect x="469.03" y="480.60" width="8.41" height="1.81" fill="#ff0000" stroke="#000" stroke-width="0.42"/>
<rect x="469.03" y="482.41" width="8.41" height="62.84" fill="#00ff00" stroke="#000" stroke-width="0.42"/>
<rect x="477.44" y="480.60" width="8.41" height="2.20" fill="#ff0000" stroke="#000" stroke-width="0.42"/>
<rect x="477.44" y="482.80" width="8.41" height="62.45" fill="#00ff00" stroke="#000" stroke-width="0.42"/>
<rect x="485.85" y="480.60" width="8.41" height="2.20" fill="#ff0000" stroke="#000" stroke-width="0.42"/>
<rect x="485.85" y="482.80" width="8.41" height="62.45" fill="#00ff00" stroke="#000" stroke-width="0.42"/>
<rect x="494.26" y="480.60" width="8.41" height="2.59" fill="#ff0000" stroke="#000" stroke-width="0.42"/>
<rect x="494.26" y="483.19" width="8.41" height="62.06" fill="#00ff00" stroke="#000" stroke-width="0.42"/>
<rect x="502.67" y="480.60" width="8.41" height="4.27" fill="#ff0000" stroke="#000" stroke-width="0.42"/>
<rect x="502.67" y="484.87" width="8.41" height="60.38" fill="#00ff00" stroke="#000" stroke-width="0.42"/>
<rect x="511.08" y="480.60" width="8.41" height="5.30" fill="#ff0000" stroke="#000" stroke-width="0.42"/>
<rect x="511.08" y="485.90" width="8.41" height="59.35" fill="#00ff00" stroke="#000" stroke-width="0.42"/>
<rect x="519.49" y="480.60" width="8.41" height="13.71" fill="#ff0000" stroke="#000" stroke-width="0.42"/>
<rect x="519.49" y="494.31" width="8.41" height="50.94" fill="#00ff00" stroke="#000" stroke-width="0.42"/>
<line x1="273.00" y1="480.70" x2="527.90" y2="480.70" stroke="#200" stroke-width="0.6"/>
<line x1="273.00" y1="545.50" x2="685.00" y2="545.50" stroke="#222" stroke-width="0.7"/>
<line x1="275.60" y1="478.60" x2="275.60" y2="545.25" stroke="#000" stroke-width="0.5"/>
<line x1="273.00" y1="480.75" x2="275.60" y2="480.75" stroke="#000" stroke-width="0.6"/>
<text x="271.10" y="481.61" font-size="5.2" text-anchor="end" textLength="7.7" lengthAdjust="spacingAndGlyphs" fill="#222" stroke="#222" stroke-width="0.18">1.00</text>
<line x1="273.00" y1="493.68" x2="275.60" y2="493.68" stroke="#000" stroke-width="0.6"/>
<text x="271.10" y="494.54" font-size="5.2" text-anchor="end" textLength="7.7" lengthAdjust="spacingAndGlyphs" fill="#222" stroke="#222" stroke-width="0.18">0.80</text>
<line x1="273.00" y1="506.61" x2="275.60" y2="506.61" stroke="#000" stroke-width="0.6"/>
<text x="271.10" y="507.47" font-size="5.2" text-anchor="end" textLength="7.7" lengthAdjust="spacingAndGlyphs" fill="#222" stroke="#222" stroke-width="0.18">0.60</text>
<line x1="273.00" y1="519.54" x2="275.60" y2="519.54" stroke="#000" stroke-width="0.6"/>
<text x="271.10" y="520.40" font-size="5.2" text-anchor="end" textLength="7.7" lengthAdjust="spacingAndGlyphs" fill="#222" stroke="#222" stroke-width="0.18">0.40</text>
<line x1="273.00" y1="532.47" x2="275.60" y2="532.47" stroke="#000" stroke-width="0.6"/>
<text x="271.10" y="533.33" font-size="5.2" text-anchor="end" textLength="7.7" lengthAdjust="spacingAndGlyphs" fill="#222" stroke="#222" stroke-width="0.18">0.20</text>
<line x1="273.00" y1="545.40" x2="275.60" y2="545.40" stroke="#000" stroke-width="0.6"/>
<text x="271.10" y="546.26" font-size="5.2" text-anchor="end" textLength="7.7" lengthAdjust="spacingAndGlyphs" fill="#222" stroke="#222" stroke-width="0.18">0.00</text>
<line x1="279.81" y1="545.75" x2="279.81" y2="547.85" stroke="#111" stroke-width="0.6"/>
<text x="279.81" y="553.06" font-size="5.2" text-anchor="middle" textLength="4.50" lengthAdjust="spacingAndGlyphs" fill="#222" stroke="#222" stroke-width="0.18">54</text>
<line x1="288.22" y1="545.75" x2="288.22" y2="548.65" stroke="#888" stroke-width="0.6"/>
<text x="288.22" y="558.61" font-size="5.2" text-anchor="middle" textLength="4.50" lengthAdjust="spacingAndGlyphs" fill="#222" stroke="#222" stroke-width="0.18">60</text>
<line x1="296.62" y1="545.75" x2="296.62" y2="547.85" stroke="#111" stroke-width="0.6"/>
<text x="296.62" y="553.06" font-size="5.2" text-anchor="middle" textLength="4.50" lengthAdjust="spacingAndGlyphs" fill="#222" stroke="#222" stroke-width="0.18">61</text>
<line x1="305.04" y1="545.75" x2="305.04" y2="548.65" stroke="#888" stroke-width="0.6"/>
<text x="305.04" y="558.61" font-size="5.2" text-anchor="middle" textLength="4.50" lengthAdjust="spacingAndGlyphs" fill="#222" stroke="#222" stroke-width="0.18">79</text>
<line x1="313.45" y1="545.75" x2="313.45" y2="547.85" stroke="#111" stroke-width="0.6"/>
<text x="313.45" y="553.06" font-size="5.2" text-anchor="middle" textLength="4.50" lengthAdjust="spacingAndGlyphs" fill="#222" stroke="#222" stroke-width="0.18">71</text>
<line x1="321.86" y1="545.75" x2="321.86" y2="548.65" stroke="#888" stroke-width="0.6"/>
<text x="321.86" y="558.61" font-size="5.2" text-anchor="middle" textLength="4.50" lengthAdjust="spacingAndGlyphs" fill="#222" stroke="#222" stroke-width="0.18">76</text>
<line x1="330.27" y1="545.75" x2="330.27" y2="547.85" stroke="#111" stroke-width="0.6"/>
<text x="330.27" y="553.06" font-size="5.2" text-anchor="middle" textLength="4.50" lengthAdjust="spacingAndGlyphs" fill="#222" stroke="#222" stroke-width="0.18">46</text>
<line x1="338.68" y1="545.75" x2="338.68" y2="548.65" stroke="#888" stroke-width="0.6"/>
<text x="338.68" y="558.61" font-size="5.2" text-anchor="middle" textLength="4.50" lengthAdjust="spacingAndGlyphs" fill="#222" stroke="#222" stroke-width="0.18">63</text>
<line x1="347.09" y1="545.75" x2="347.09" y2="547.85" stroke="#111" stroke-width="0.6"/>
<text x="347.09" y="553.06" font-size="5.2" text-anchor="middle" textLength="4.50" lengthAdjust="spacingAndGlyphs" fill="#222" stroke="#222" stroke-width="0.18">67</text>
<line x1="355.50" y1="545.75" x2="355.50" y2="548.65" stroke="#888" stroke-width="0.6"/>
<text x="355.50" y="558.61" font-size="5.2" text-anchor="middle" textLength="4.50" lengthAdjust="spacingAndGlyphs" fill="#222" stroke="#222" stroke-width="0.18">80</text>
<line x1="363.91" y1="545.75" x2="363.91" y2="547.85" stroke="#111" stroke-width="0.6"/>
<text x="363.91" y="553.06" font-size="5.2" text-anchor="middle" textLength="4.50" lengthAdjust="spacingAndGlyphs" fill="#222" stroke="#222" stroke-width="0.18">69</text>
<line x1="372.32" y1="545.75" x2="372.32" y2="548.65" stroke="#888" stroke-width="0.6"/>
<text x="372.32" y="558.61" font-size="5.2" text-anchor="middle" textLength="4.50" lengthAdjust="spacingAndGlyphs" fill="#222" stroke="#222" stroke-width="0.18">70</text>
<line x1="380.73" y1="545.75" x2="380.73" y2="547.85" stroke="#111" stroke-width="0.6"/>
<text x="380.73" y="553.06" font-size="5.2" text-anchor="middle" textLength="4.50" lengthAdjust="spacingAndGlyphs" fill="#222" stroke="#222" stroke-width="0.18">47</text>
<line x1="389.13" y1="545.75" x2="389.13" y2="548.65" stroke="#888" stroke-width="0.6"/>
<text x="389.13" y="558.61" font-size="5.2" text-anchor="middle" textLength="4.50" lengthAdjust="spacingAndGlyphs" fill="#222" stroke="#222" stroke-width="0.18">49</text>
<line x1="397.55" y1="545.75" x2="397.55" y2="547.85" stroke="#111" stroke-width="0.6"/>
<text x="397.55" y="553.06" font-size="5.2" text-anchor="middle" textLength="4.50" lengthAdjust="spacingAndGlyphs" fill="#222" stroke="#222" stroke-width="0.18">72</text>
<line x1="405.96" y1="545.75" x2="405.96" y2="548.65" stroke="#888" stroke-width="0.6"/>
<text x="405.96" y="558.61" font-size="5.2" text-anchor="middle" textLength="4.50" lengthAdjust="spacingAndGlyphs" fill="#222" stroke="#222" stroke-width="0.18">78</text>
<line x1="414.37" y1="545.75" x2="414.37" y2="547.85" stroke="#111" stroke-width="0.6"/>
<text x="414.37" y="553.06" font-size="5.2" text-anchor="middle" textLength="4.50" lengthAdjust="spacingAndGlyphs" fill="#222" stroke="#222" stroke-width="0.18">66</text>
<line x1="422.78" y1="545.75" x2="422.78" y2="548.65" stroke="#888" stroke-width="0.6"/>
<text x="422.78" y="558.61" font-size="5.2" text-anchor="middle" textLength="4.50" lengthAdjust="spacingAndGlyphs" fill="#222" stroke="#222" stroke-width="0.18">74</text>
<line x1="431.19" y1="545.75" x2="431.19" y2="547.85" stroke="#111" stroke-width="0.6"/>
<text x="431.19" y="553.06" font-size="5.2" text-anchor="middle" textLength="4.50" lengthAdjust="spacingAndGlyphs" fill="#222" stroke="#222" stroke-width="0.18">80</text>
<line x1="439.60" y1="545.75" x2="439.60" y2="548.65" stroke="#888" stroke-width="0.6"/>
<text x="439.60" y="558.61" font-size="5.2" text-anchor="middle" textLength="4.50" lengthAdjust="spacingAndGlyphs" fill="#222" stroke="#222" stroke-width="0.18">59</text>
<line x1="448.00" y1="545.75" x2="448.00" y2="547.85" stroke="#111" stroke-width="0.6"/>
<text x="448.00" y="553.06" font-size="5.2" text-anchor="middle" textLength="4.50" lengthAdjust="spacingAndGlyphs" fill="#222" stroke="#222" stroke-width="0.18">52</text>
<line x1="456.42" y1="545.75" x2="456.42" y2="548.65" stroke="#888" stroke-width="0.6"/>
<text x="456.42" y="558.61" font-size="5.2" text-anchor="middle" textLength="4.50" lengthAdjust="spacingAndGlyphs" fill="#222" stroke="#222" stroke-width="0.18">55</text>
<line x1="464.83" y1="545.75" x2="464.83" y2="547.85" stroke="#111" stroke-width="0.6"/>
<text x="464.83" y="553.06" font-size="5.2" text-anchor="middle" textLength="4.50" lengthAdjust="spacingAndGlyphs" fill="#222" stroke="#222" stroke-width="0.18">58</text>
<line x1="473.24" y1="545.75" x2="473.24" y2="548.65" stroke="#888" stroke-width="0.6"/>
<text x="473.24" y="558.61" font-size="5.2" text-anchor="middle" textLength="4.50" lengthAdjust="spacingAndGlyphs" fill="#222" stroke="#222" stroke-width="0.18">62</text>
<line x1="481.65" y1="545.75" x2="481.65" y2="547.85" stroke="#111" stroke-width="0.6"/>
<text x="481.65" y="553.06" font-size="5.2" text-anchor="middle" textLength="4.50" lengthAdjust="spacingAndGlyphs" fill="#222" stroke="#222" stroke-width="0.18">45</text>
<line x1="490.06" y1="545.75" x2="490.06" y2="548.65" stroke="#888" stroke-width="0.6"/>
<text x="490.06" y="558.61" font-size="5.2" text-anchor="middle" textLength="4.50" lengthAdjust="spacingAndGlyphs" fill="#222" stroke="#222" stroke-width="0.18">53</text>
<line x1="498.47" y1="545.75" x2="498.47" y2="547.85" stroke="#111" stroke-width="0.6"/>
<text x="498.47" y="553.06" font-size="5.2" text-anchor="middle" textLength="4.50" lengthAdjust="spacingAndGlyphs" fill="#222" stroke="#222" stroke-width="0.18">51</text>
<line x1="506.88" y1="545.75" x2="506.88" y2="548.65" stroke="#888" stroke-width="0.6"/>
<text x="506.88" y="558.61" font-size="5.2" text-anchor="middle" textLength="4.50" lengthAdjust="spacingAndGlyphs" fill="#222" stroke="#222" stroke-width="0.18">65</text>
<line x1="515.29" y1="545.75" x2="515.29" y2="547.85" stroke="#111" stroke-width="0.6"/>
<text x="515.29" y="553.06" font-size="5.2" text-anchor="middle" textLength="4.50" lengthAdjust="spacingAndGlyphs" fill="#222" stroke="#222" stroke-width="0.18">56</text>
<line x1="523.70" y1="545.75" x2="523.70" y2="548.65" stroke="#888" stroke-width="0.6"/>
<text x="523.70" y="558.61" font-size="5.2" text-anchor="middle" textLength="4.50" lengthAdjust="spacingAndGlyphs" fill="#222" stroke="#222" stroke-width="0.18">64</text>
</g>

<g style="font-family:'Liberation Serif',serif;font-weight:bold" fill="#000">
<text transform="translate(9.3,89.75) rotate(-90)" font-size="13.8" text-anchor="middle">SCoT</text>
<text transform="translate(12.4,280.3) rotate(-90)" font-size="16.8" text-anchor="middle">ISSR</text>
<text transform="translate(12.2,475.9) rotate(-90)" font-size="16.8" text-anchor="middle">SCoT+ISSR</text>
</g>
<g style="font-family:'Liberation Serif',serif" fill="#000" font-size="14.2">
<text x="147.3" y="591" text-anchor="middle">(a)</text>
<text x="469.8" y="591" text-anchor="middle">(b)</text>
</g>

</g>
</svg>
</body></html>
